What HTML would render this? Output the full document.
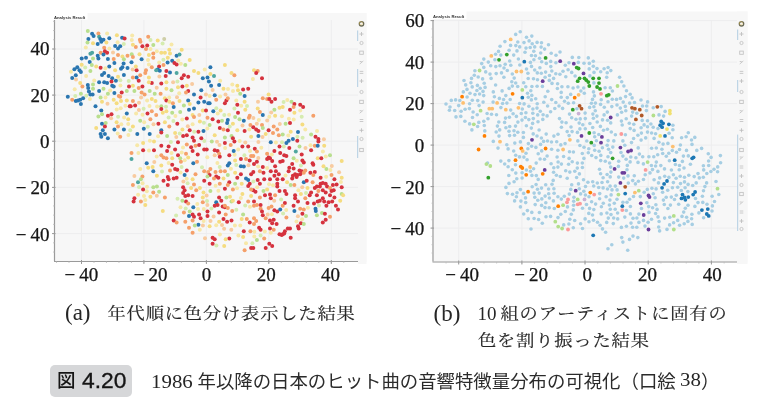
<!DOCTYPE html>
<html><head><meta charset="utf-8">
<style>
html,body{margin:0;padding:0;background:#fff;}
body{width:763px;height:412px;position:relative;overflow:hidden;}
svg{position:absolute;left:0;top:0;}
.yt,.xt{position:absolute;font-family:"Liberation Serif",serif;font-size:19px;line-height:21px;color:#151515;white-space:nowrap;-webkit-text-stroke:0.25px #151515;}
.xt{width:60px;text-align:center;}
.mn{margin-right:4px;}
.ttl{position:absolute;font-family:"Liberation Sans",sans-serif;font-size:4.2px;line-height:6px;color:#333;font-weight:bold;white-space:nowrap;}
.cap{position:absolute;font-family:"Noto Serif CJK JP","Noto Serif CJK SC",serif;font-size:18.2px;letter-spacing:0.9px;line-height:26px;color:#262626;white-space:nowrap;-webkit-text-stroke:0.2px #262626;transform:scaleY(0.9);transform-origin:0 13px;}
.lbl{position:absolute;font-family:"Liberation Serif",serif;font-size:23px;line-height:26px;color:#262626;white-space:nowrap;}
.num{position:absolute;font-family:"Liberation Serif",serif;font-size:19px;line-height:26px;color:#262626;white-space:nowrap;transform:scaleX(1.1);transform-origin:0 0;}
.fig{position:absolute;left:50px;top:365px;width:82px;height:31.5px;background:#d6d7d9;border-radius:5px;}
.figz{position:absolute;font-family:"Noto Sans CJK JP",sans-serif;font-size:18.5px;font-weight:500;line-height:26px;color:#151515;white-space:nowrap;}
.figt{position:absolute;font-family:"Liberation Sans",sans-serif;font-size:22.8px;line-height:26px;color:#151515;white-space:nowrap;-webkit-text-stroke:0.35px #151515;}
.jp{position:absolute;font-family:"Noto Sans CJK JP",sans-serif;font-size:18.4px;line-height:26px;color:#2b2b2b;white-space:nowrap;}
</style></head><body>
<svg width="763" height="412" viewBox="0 0 763 412">
<defs><filter id="bl" x="0" y="0" width="1" height="1"><feGaussianBlur stdDeviation="0.6"/></filter></defs>
<rect x="54" y="13" width="312.5" height="249" fill="#f7f7f7"/>
<rect x="358" y="13" width="8.5" height="251" fill="#f7f7f7"/>
<line x1="81.5" y1="20" x2="81.5" y2="261" stroke="#ededee" stroke-width="1"/>
<line x1="143.9" y1="20" x2="143.9" y2="261" stroke="#ededee" stroke-width="1"/>
<line x1="206.4" y1="20" x2="206.4" y2="261" stroke="#ededee" stroke-width="1"/>
<line x1="268.8" y1="20" x2="268.8" y2="261" stroke="#ededee" stroke-width="1"/>
<line x1="331.3" y1="20" x2="331.3" y2="261" stroke="#ededee" stroke-width="1"/>
<line x1="54" y1="49.0" x2="358" y2="49.0" stroke="#ededee" stroke-width="1"/>
<line x1="54" y1="95.1" x2="358" y2="95.1" stroke="#ededee" stroke-width="1"/>
<line x1="54" y1="141.2" x2="358" y2="141.2" stroke="#ededee" stroke-width="1"/>
<line x1="54" y1="187.4" x2="358" y2="187.4" stroke="#ededee" stroke-width="1"/>
<line x1="54" y1="233.6" x2="358" y2="233.6" stroke="#ededee" stroke-width="1"/>
<g filter="url(#bl)">
<circle cx="207.3" cy="157.2" r="2.0" fill="#f7e8a8"/>
<circle cx="216.2" cy="225.3" r="2.0" fill="#f7e8a8"/>
<circle cx="248.5" cy="165.2" r="2.0" fill="#f8cba0"/>
<circle cx="219.9" cy="234.6" r="2.0" fill="#f7e8a8"/>
<circle cx="176.1" cy="215.5" r="2.0" fill="#d5ecb0"/>
<circle cx="181.7" cy="152.4" r="2.0" fill="#f7e8a8"/>
<circle cx="94.2" cy="80.4" r="2.0" fill="#f7e8a8"/>
<circle cx="234.6" cy="154.8" r="2.0" fill="#f7e8a8"/>
<circle cx="234.4" cy="108.6" r="2.0" fill="#d5ecb0"/>
<circle cx="237.0" cy="188.2" r="2.0" fill="#f7e8a8"/>
<circle cx="233.0" cy="91.0" r="2.0" fill="#f7e8a8"/>
<circle cx="132.2" cy="35.5" r="2.0" fill="#f7e8a8"/>
<circle cx="218.4" cy="190.8" r="2.0" fill="#f7e8a8"/>
<circle cx="271.2" cy="112.4" r="2.0" fill="#f8cba0"/>
<circle cx="217.0" cy="141.7" r="2.0" fill="#f8cba0"/>
<circle cx="262.5" cy="136.9" r="2.0" fill="#f8cba0"/>
<circle cx="177.4" cy="81.4" r="2.0" fill="#d5ecb0"/>
<circle cx="170.9" cy="142.0" r="2.0" fill="#d5ecb0"/>
<circle cx="267.7" cy="214.4" r="2.0" fill="#f8cba0"/>
<circle cx="225.5" cy="94.5" r="2.0" fill="#f8cba0"/>
<circle cx="242.5" cy="125.5" r="2.0" fill="#f8cba0"/>
<circle cx="250.0" cy="206.7" r="2.0" fill="#f7e8a8"/>
<circle cx="139.0" cy="102.8" r="2.0" fill="#f8cba0"/>
<circle cx="279.8" cy="123.9" r="2.0" fill="#f8cba0"/>
<circle cx="245.3" cy="142.6" r="2.0" fill="#f8cba0"/>
<circle cx="134.4" cy="176.0" r="2.0" fill="#f8cba0"/>
<circle cx="132.7" cy="69.5" r="2.0" fill="#f8cba0"/>
<circle cx="310.5" cy="145.2" r="2.0" fill="#f7e8a8"/>
<circle cx="213.6" cy="216.5" r="2.0" fill="#f8cba0"/>
<circle cx="234.9" cy="225.4" r="2.0" fill="#f7e8a8"/>
<circle cx="206.6" cy="195.6" r="2.0" fill="#f8cba0"/>
<circle cx="173.4" cy="120.9" r="2.0" fill="#d5ecb0"/>
<circle cx="184.7" cy="160.2" r="2.0" fill="#f7e8a8"/>
<circle cx="118.1" cy="116.8" r="2.0" fill="#d5ecb0"/>
<circle cx="319.0" cy="205.4" r="2.0" fill="#d5ecb0"/>
<circle cx="216.3" cy="108.2" r="2.0" fill="#d5ecb0"/>
<circle cx="281.9" cy="116.3" r="2.0" fill="#f7e8a8"/>
<circle cx="116.7" cy="109.5" r="2.0" fill="#f7e8a8"/>
<circle cx="142.5" cy="114.7" r="2.0" fill="#f7e8a8"/>
<circle cx="250.0" cy="151.1" r="2.0" fill="#f7e8a8"/>
<circle cx="75.3" cy="95.9" r="2.0" fill="#d5ecb0"/>
<circle cx="296.8" cy="160.8" r="2.0" fill="#f7e8a8"/>
<circle cx="163.4" cy="59.8" r="2.0" fill="#d5ecb0"/>
<circle cx="192.1" cy="84.0" r="2.0" fill="#f8cba0"/>
<circle cx="205.9" cy="94.4" r="2.0" fill="#f8cba0"/>
<circle cx="241.2" cy="105.8" r="2.0" fill="#f7e8a8"/>
<circle cx="258.1" cy="166.4" r="2.0" fill="#f7e8a8"/>
<circle cx="219.7" cy="167.0" r="2.0" fill="#d5ecb0"/>
<circle cx="158.1" cy="136.2" r="2.0" fill="#f7e8a8"/>
<circle cx="240.9" cy="198.0" r="2.0" fill="#f7e8a8"/>
<circle cx="153.5" cy="124.2" r="2.0" fill="#f8cba0"/>
<circle cx="166.0" cy="106.7" r="2.0" fill="#d5ecb0"/>
<circle cx="307.9" cy="207.7" r="2.0" fill="#f7e8a8"/>
<circle cx="282.0" cy="142.3" r="2.0" fill="#d5ecb0"/>
<circle cx="269.1" cy="184.3" r="2.0" fill="#f7e8a8"/>
<circle cx="182.3" cy="119.6" r="2.0" fill="#f7e8a8"/>
<circle cx="317.0" cy="131.1" r="2.0" fill="#f7e8a8"/>
<circle cx="148.0" cy="60.0" r="2.0" fill="#f7e8a8"/>
<circle cx="331.8" cy="166.0" r="2.0" fill="#f8cba0"/>
<circle cx="105.5" cy="97.4" r="2.0" fill="#f7e8a8"/>
<circle cx="239.7" cy="141.1" r="2.0" fill="#f7e8a8"/>
<circle cx="288.9" cy="118.8" r="2.0" fill="#f7e8a8"/>
<circle cx="85.2" cy="67.4" r="2.0" fill="#d5ecb0"/>
<circle cx="86.1" cy="76.0" r="2.0" fill="#f7e8a8"/>
<circle cx="283.6" cy="101.9" r="2.0" fill="#d5ecb0"/>
<circle cx="225.1" cy="147.9" r="2.0" fill="#f7e8a8"/>
<circle cx="224.1" cy="228.7" r="2.0" fill="#f8cba0"/>
<circle cx="169.2" cy="97.4" r="2.0" fill="#f7e8a8"/>
<circle cx="187.8" cy="126.3" r="2.0" fill="#f8cba0"/>
<circle cx="140.3" cy="169.0" r="2.0" fill="#f7e8a8"/>
<circle cx="325.8" cy="156.6" r="2.0" fill="#f7e8a8"/>
<circle cx="247.0" cy="105.9" r="2.0" fill="#d5ecb0"/>
<circle cx="258.4" cy="142.1" r="2.0" fill="#f8cba0"/>
<circle cx="128.2" cy="124.1" r="2.0" fill="#f7e8a8"/>
<circle cx="128.4" cy="135.1" r="2.0" fill="#f7e8a8"/>
<circle cx="154.3" cy="161.9" r="2.0" fill="#f8cba0"/>
<circle cx="203.9" cy="122.8" r="2.0" fill="#d5ecb0"/>
<circle cx="183.4" cy="181.5" r="2.0" fill="#f8cba0"/>
<circle cx="274.2" cy="200.7" r="2.0" fill="#f8cba0"/>
<circle cx="275.9" cy="142.4" r="2.0" fill="#f7e8a8"/>
<circle cx="199.3" cy="115.0" r="2.0" fill="#f8cba0"/>
<circle cx="136.1" cy="113.4" r="2.0" fill="#f7e8a8"/>
<circle cx="183.0" cy="147.4" r="2.0" fill="#f7e8a8"/>
<circle cx="306.0" cy="193.1" r="2.0" fill="#d5ecb0"/>
<circle cx="254.4" cy="231.8" r="2.0" fill="#f7e8a8"/>
<circle cx="142.5" cy="183.3" r="2.0" fill="#f7e8a8"/>
<circle cx="252.9" cy="79.0" r="2.0" fill="#f7e8a8"/>
<circle cx="138.9" cy="109.9" r="2.0" fill="#f8cba0"/>
<circle cx="147.0" cy="186.8" r="2.0" fill="#f7e8a8"/>
<circle cx="217.4" cy="162.9" r="2.0" fill="#f7e8a8"/>
<circle cx="149.5" cy="106.1" r="2.0" fill="#f7e8a8"/>
<circle cx="217.7" cy="113.6" r="2.0" fill="#f7e8a8"/>
<circle cx="105.4" cy="68.2" r="2.0" fill="#f7e8a8"/>
<circle cx="128.7" cy="81.1" r="2.0" fill="#d5ecb0"/>
<circle cx="264.8" cy="231.4" r="2.0" fill="#f7e8a8"/>
<circle cx="179.7" cy="133.4" r="2.0" fill="#d5ecb0"/>
<circle cx="156.8" cy="195.8" r="2.0" fill="#f8cba0"/>
<circle cx="181.6" cy="167.1" r="2.0" fill="#d5ecb0"/>
<circle cx="269.3" cy="116.8" r="2.0" fill="#f7e8a8"/>
<circle cx="261.3" cy="147.8" r="2.0" fill="#f7e8a8"/>
<circle cx="138.4" cy="153.0" r="2.0" fill="#f7e8a8"/>
<circle cx="149.9" cy="140.7" r="2.0" fill="#f7e8a8"/>
<circle cx="150.5" cy="40.0" r="2.0" fill="#d5ecb0"/>
<circle cx="232.3" cy="84.5" r="2.0" fill="#f7e8a8"/>
<circle cx="177.0" cy="97.3" r="2.0" fill="#f8cba0"/>
<circle cx="267.2" cy="120.4" r="2.0" fill="#f8cba0"/>
<circle cx="302.6" cy="137.8" r="2.0" fill="#d5ecb0"/>
<circle cx="288.3" cy="135.4" r="2.0" fill="#f7e8a8"/>
<circle cx="168.6" cy="162.9" r="2.0" fill="#f7e8a8"/>
<circle cx="228.0" cy="89.1" r="2.0" fill="#f7e8a8"/>
<circle cx="156.7" cy="156.5" r="2.0" fill="#f7e8a8"/>
<circle cx="297.9" cy="216.3" r="2.0" fill="#f8cba0"/>
<circle cx="296.5" cy="221.5" r="2.0" fill="#f7e8a8"/>
<circle cx="120.7" cy="108.2" r="2.0" fill="#f7e8a8"/>
<circle cx="252.4" cy="243.2" r="2.0" fill="#d5ecb0"/>
<circle cx="145.3" cy="199.9" r="2.0" fill="#f7e8a8"/>
<circle cx="109.4" cy="48.5" r="2.0" fill="#f7e8a8"/>
<circle cx="273.0" cy="185.3" r="2.0" fill="#f7e8a8"/>
<circle cx="281.1" cy="199.5" r="2.0" fill="#d5ecb0"/>
<circle cx="146.8" cy="191.3" r="2.0" fill="#f7e8a8"/>
<circle cx="123.8" cy="44.0" r="2.0" fill="#d5ecb0"/>
<circle cx="156.8" cy="51.3" r="2.0" fill="#f7e8a8"/>
<circle cx="204.3" cy="141.1" r="2.0" fill="#d5ecb0"/>
<circle cx="107.5" cy="103.7" r="2.0" fill="#f8cba0"/>
<circle cx="202.0" cy="167.3" r="2.0" fill="#d5ecb0"/>
<circle cx="271.8" cy="154.4" r="2.0" fill="#f7e8a8"/>
<circle cx="230.9" cy="168.7" r="2.0" fill="#f7e8a8"/>
<circle cx="204.7" cy="69.4" r="2.0" fill="#f7e8a8"/>
<circle cx="147.1" cy="100.5" r="2.0" fill="#f7e8a8"/>
<circle cx="301.7" cy="116.7" r="2.0" fill="#d5ecb0"/>
<circle cx="162.0" cy="171.6" r="2.0" fill="#d5ecb0"/>
<circle cx="287.3" cy="99.9" r="2.0" fill="#f7e8a8"/>
<circle cx="322.9" cy="151.5" r="2.0" fill="#f7e8a8"/>
<circle cx="198.0" cy="209.1" r="2.0" fill="#f7e8a8"/>
<circle cx="270.8" cy="232.8" r="2.0" fill="#f7e8a8"/>
<circle cx="113.0" cy="52.6" r="2.0" fill="#f8cba0"/>
<circle cx="211.4" cy="208.6" r="2.0" fill="#d5ecb0"/>
<circle cx="305.3" cy="129.6" r="2.0" fill="#f7e8a8"/>
<circle cx="256.8" cy="123.8" r="2.0" fill="#f8cba0"/>
<circle cx="249.3" cy="129.6" r="2.0" fill="#f7e8a8"/>
<circle cx="159.2" cy="62.4" r="2.0" fill="#f7e8a8"/>
<circle cx="240.3" cy="225.5" r="2.0" fill="#f7e8a8"/>
<circle cx="176.3" cy="137.0" r="2.0" fill="#f8cba0"/>
<circle cx="246.0" cy="243.3" r="2.0" fill="#f7e8a8"/>
<circle cx="229.1" cy="114.7" r="2.0" fill="#f7e8a8"/>
<circle cx="330.4" cy="170.0" r="2.0" fill="#f7e8a8"/>
<circle cx="173.1" cy="82.2" r="2.0" fill="#f8cba0"/>
<circle cx="209.6" cy="96.1" r="2.0" fill="#f7e8a8"/>
<circle cx="89.9" cy="98.9" r="2.0" fill="#f7e8a8"/>
<circle cx="156.7" cy="87.8" r="2.0" fill="#f8cba0"/>
<circle cx="212.6" cy="89.9" r="2.0" fill="#f8cba0"/>
<circle cx="205.0" cy="238.2" r="2.0" fill="#f8cba0"/>
<circle cx="139.0" cy="186.9" r="2.0" fill="#d5ecb0"/>
<circle cx="120.3" cy="80.2" r="2.0" fill="#d5ecb0"/>
<circle cx="302.2" cy="187.2" r="2.0" fill="#f8cba0"/>
<circle cx="179.2" cy="93.3" r="2.0" fill="#f7e8a8"/>
<circle cx="216.4" cy="245.5" r="2.0" fill="#d5ecb0"/>
<circle cx="178.2" cy="60.4" r="2.0" fill="#f7e8a8"/>
<circle cx="293.7" cy="119.5" r="2.0" fill="#f7e8a8"/>
<circle cx="144.2" cy="122.3" r="2.0" fill="#f7e8a8"/>
<circle cx="300.2" cy="110.5" r="2.0" fill="#f7e8a8"/>
<circle cx="175.4" cy="116.0" r="2.0" fill="#f7e8a8"/>
<circle cx="238.2" cy="149.6" r="2.0" fill="#f7e8a8"/>
<circle cx="253.4" cy="181.5" r="2.0" fill="#d5ecb0"/>
<circle cx="180.8" cy="63.8" r="2.0" fill="#f7e8a8"/>
<circle cx="238.4" cy="235.4" r="2.0" fill="#f7e8a8"/>
<circle cx="180.5" cy="172.4" r="2.0" fill="#f7e8a8"/>
<circle cx="326.1" cy="176.8" r="2.0" fill="#f7e8a8"/>
<circle cx="260.6" cy="235.4" r="2.0" fill="#d5ecb0"/>
<circle cx="107.1" cy="33.4" r="2.0" fill="#f7e8a8"/>
<circle cx="258.3" cy="157.9" r="2.0" fill="#f8cba0"/>
<circle cx="141.1" cy="97.6" r="2.0" fill="#f8cba0"/>
<circle cx="194.2" cy="131.7" r="2.0" fill="#d5ecb0"/>
<circle cx="258.8" cy="119.9" r="2.0" fill="#f7e8a8"/>
<circle cx="121.3" cy="124.3" r="2.0" fill="#f7e8a8"/>
<circle cx="199.8" cy="229.7" r="2.0" fill="#f7e8a8"/>
<circle cx="220.1" cy="96.4" r="2.0" fill="#f7e8a8"/>
<circle cx="117.6" cy="42.3" r="2.0" fill="#f7e8a8"/>
<circle cx="168.6" cy="117.4" r="2.0" fill="#d5ecb0"/>
<circle cx="171.5" cy="153.0" r="2.0" fill="#f7e8a8"/>
<circle cx="245.2" cy="205.6" r="2.0" fill="#d5ecb0"/>
<circle cx="130.2" cy="130.2" r="2.0" fill="#d5ecb0"/>
<circle cx="285.5" cy="175.6" r="2.0" fill="#f7e8a8"/>
<circle cx="210.5" cy="221.0" r="2.0" fill="#f8cba0"/>
<circle cx="236.3" cy="209.8" r="2.0" fill="#d5ecb0"/>
<circle cx="253.4" cy="117.9" r="2.0" fill="#f8cba0"/>
<circle cx="187.6" cy="183.2" r="2.0" fill="#d5ecb0"/>
<circle cx="147.8" cy="126.7" r="2.0" fill="#d5ecb0"/>
<circle cx="85.8" cy="47.6" r="2.0" fill="#f7e8a8"/>
<circle cx="180.5" cy="207.2" r="2.0" fill="#f7e8a8"/>
<circle cx="74.7" cy="89.3" r="2.0" fill="#f7e8a8"/>
<circle cx="340.9" cy="181.9" r="2.0" fill="#f7e8a8"/>
<circle cx="214.7" cy="155.3" r="2.0" fill="#f8cba0"/>
<circle cx="222.0" cy="224.9" r="2.0" fill="#f8cba0"/>
<circle cx="271.9" cy="214.2" r="2.0" fill="#f7e8a8"/>
<circle cx="148.9" cy="64.4" r="2.0" fill="#f7e8a8"/>
<circle cx="300.9" cy="165.6" r="2.0" fill="#d5ecb0"/>
<circle cx="137.2" cy="145.3" r="2.0" fill="#f7e8a8"/>
<circle cx="298.4" cy="190.3" r="2.0" fill="#f7e8a8"/>
<circle cx="297.4" cy="136.7" r="2.0" fill="#d5ecb0"/>
<circle cx="111.1" cy="118.3" r="2.0" fill="#f8cba0"/>
<circle cx="302.1" cy="219.3" r="2.0" fill="#f7e8a8"/>
<circle cx="162.6" cy="43.5" r="2.0" fill="#d5ecb0"/>
<circle cx="125.4" cy="105.8" r="2.0" fill="#f7e8a8"/>
<circle cx="215.6" cy="185.8" r="2.0" fill="#f7e8a8"/>
<circle cx="117.7" cy="133.4" r="2.0" fill="#f7e8a8"/>
<circle cx="229.7" cy="126.6" r="2.0" fill="#d5ecb0"/>
<circle cx="192.6" cy="124.2" r="2.0" fill="#f7e8a8"/>
<circle cx="257.1" cy="187.2" r="2.0" fill="#f7e8a8"/>
<circle cx="144.0" cy="195.9" r="2.0" fill="#f7e8a8"/>
<circle cx="131.8" cy="40.0" r="2.0" fill="#f7e8a8"/>
<circle cx="305.5" cy="148.1" r="2.0" fill="#f8cba0"/>
<circle cx="150.5" cy="48.9" r="2.0" fill="#f7e8a8"/>
<circle cx="138.1" cy="194.7" r="2.0" fill="#f7e8a8"/>
<circle cx="143.6" cy="108.8" r="2.0" fill="#d5ecb0"/>
<circle cx="202.9" cy="225.6" r="2.0" fill="#f8cba0"/>
<circle cx="171.5" cy="44.6" r="2.0" fill="#f7e8a8"/>
<circle cx="258.0" cy="101.8" r="2.0" fill="#f8cba0"/>
<circle cx="197.3" cy="204.0" r="2.0" fill="#f7e8a8"/>
<circle cx="186.7" cy="178.8" r="2.0" fill="#f7e8a8"/>
<circle cx="236.2" cy="165.1" r="2.0" fill="#d5ecb0"/>
<circle cx="231.3" cy="229.8" r="2.0" fill="#f8cba0"/>
<circle cx="185.7" cy="208.5" r="2.0" fill="#d5ecb0"/>
<circle cx="177.5" cy="198.8" r="2.0" fill="#d5ecb0"/>
<circle cx="207.4" cy="205.1" r="2.0" fill="#f8cba0"/>
<circle cx="244.4" cy="155.2" r="2.0" fill="#d5ecb0"/>
<circle cx="220.2" cy="80.7" r="2.0" fill="#f7e8a8"/>
<circle cx="120.4" cy="85.4" r="2.0" fill="#f7e8a8"/>
<circle cx="203.8" cy="208.9" r="2.0" fill="#f7e8a8"/>
<circle cx="159.4" cy="76.6" r="2.0" fill="#f8cba0"/>
<circle cx="157.1" cy="106.4" r="2.0" fill="#f7e8a8"/>
<circle cx="224.3" cy="115.0" r="2.0" fill="#d5ecb0"/>
<circle cx="254.3" cy="236.6" r="2.0" fill="#f7e8a8"/>
<circle cx="286.2" cy="210.0" r="2.0" fill="#f7e8a8"/>
<circle cx="339.1" cy="172.3" r="2.0" fill="#f8cba0"/>
<circle cx="76.0" cy="79.5" r="2.0" fill="#f8cba0"/>
<circle cx="207.4" cy="128.5" r="2.0" fill="#f7e8a8"/>
<circle cx="203.6" cy="220.9" r="2.0" fill="#f7e8a8"/>
<circle cx="149.0" cy="150.6" r="2.0" fill="#f7e8a8"/>
<circle cx="207.0" cy="201.1" r="2.0" fill="#d5ecb0"/>
<circle cx="110.1" cy="90.5" r="2.0" fill="#f7e8a8"/>
<circle cx="124.1" cy="117.4" r="2.0" fill="#f7e8a8"/>
<circle cx="283.1" cy="213.4" r="2.0" fill="#d5ecb0"/>
<circle cx="219.5" cy="145.1" r="2.0" fill="#f8cba0"/>
<circle cx="267.1" cy="168.1" r="2.0" fill="#f7e8a8"/>
<circle cx="323.9" cy="139.2" r="2.0" fill="#f8cba0"/>
<circle cx="86.3" cy="95.7" r="2.0" fill="#d5ecb0"/>
<circle cx="236.3" cy="100.5" r="2.0" fill="#f7e8a8"/>
<circle cx="71.0" cy="71.8" r="2.0" fill="#f7e8a8"/>
<circle cx="283.8" cy="146.4" r="2.0" fill="#d5ecb0"/>
<circle cx="131.5" cy="153.1" r="2.0" fill="#f5a06a"/>
<circle cx="131.5" cy="158.9" r="2.0" fill="#4fa6a0"/>
<circle cx="143.1" cy="150.2" r="2.0" fill="#d5313e"/>
<circle cx="154.0" cy="150.2" r="2.0" fill="#d5313e"/>
<circle cx="161.3" cy="145.8" r="2.0" fill="#d5313e"/>
<circle cx="168.6" cy="146.6" r="2.0" fill="#d5313e"/>
<circle cx="167.1" cy="150.9" r="2.0" fill="#d5313e"/>
<circle cx="175.1" cy="149.5" r="2.0" fill="#d5313e"/>
<circle cx="178.0" cy="142.2" r="2.0" fill="#d5313e"/>
<circle cx="186.8" cy="144.4" r="2.0" fill="#f5a06a"/>
<circle cx="191.1" cy="147.3" r="2.0" fill="#d5313e"/>
<circle cx="192.6" cy="150.9" r="2.0" fill="#d5313e"/>
<circle cx="195.5" cy="145.8" r="2.0" fill="#f5a06a"/>
<circle cx="199.1" cy="145.1" r="2.0" fill="#d5313e"/>
<circle cx="197.7" cy="154.6" r="2.0" fill="#d5313e"/>
<circle cx="204.2" cy="149.5" r="2.0" fill="#d5313e"/>
<circle cx="194.0" cy="140.7" r="2.0" fill="#d5313e"/>
<circle cx="154.0" cy="141.5" r="2.0" fill="#f5dc80"/>
<circle cx="143.1" cy="142.9" r="2.0" fill="#f5dc80"/>
<circle cx="163.5" cy="157.5" r="2.0" fill="#f5a06a"/>
<circle cx="166.4" cy="158.2" r="2.0" fill="#f5a06a"/>
<circle cx="161.3" cy="155.3" r="2.0" fill="#f5a06a"/>
<circle cx="178.0" cy="155.3" r="2.0" fill="#d5313e"/>
<circle cx="180.2" cy="158.2" r="2.0" fill="#b9df8e"/>
<circle cx="172.2" cy="158.2" r="2.0" fill="#f5dc80"/>
<circle cx="180.9" cy="161.8" r="2.0" fill="#f5a06a"/>
<circle cx="186.0" cy="153.8" r="2.0" fill="#f5a06a"/>
<circle cx="188.2" cy="157.5" r="2.0" fill="#f5dc80"/>
<circle cx="193.3" cy="163.3" r="2.0" fill="#2a76b0"/>
<circle cx="197.0" cy="161.8" r="2.0" fill="#f5a06a"/>
<circle cx="146.7" cy="163.3" r="2.0" fill="#2a76b0"/>
<circle cx="153.3" cy="171.3" r="2.0" fill="#2a76b0"/>
<circle cx="148.2" cy="167.7" r="2.0" fill="#f5dc80"/>
<circle cx="152.6" cy="166.9" r="2.0" fill="#f5dc80"/>
<circle cx="161.3" cy="165.5" r="2.0" fill="#f5dc80"/>
<circle cx="172.2" cy="164.7" r="2.0" fill="#d5313e"/>
<circle cx="170.0" cy="170.6" r="2.0" fill="#f5a06a"/>
<circle cx="175.1" cy="169.1" r="2.0" fill="#d5313e"/>
<circle cx="177.3" cy="169.8" r="2.0" fill="#d5313e"/>
<circle cx="186.8" cy="170.6" r="2.0" fill="#d5313e"/>
<circle cx="184.6" cy="174.9" r="2.0" fill="#2a76b0"/>
<circle cx="195.5" cy="174.2" r="2.0" fill="#f5a06a"/>
<circle cx="204.2" cy="171.3" r="2.0" fill="#f5a06a"/>
<circle cx="142.4" cy="176.4" r="2.0" fill="#f5a06a"/>
<circle cx="140.9" cy="179.3" r="2.0" fill="#b9df8e"/>
<circle cx="138.0" cy="182.2" r="2.0" fill="#4fa6a0"/>
<circle cx="132.9" cy="185.1" r="2.0" fill="#f5a06a"/>
<circle cx="167.8" cy="177.1" r="2.0" fill="#d5313e"/>
<circle cx="168.6" cy="179.3" r="2.0" fill="#d5313e"/>
<circle cx="163.5" cy="180.8" r="2.0" fill="#d5313e"/>
<circle cx="173.7" cy="178.6" r="2.0" fill="#d5313e"/>
<circle cx="176.6" cy="177.8" r="2.0" fill="#d5313e"/>
<circle cx="156.9" cy="175.7" r="2.0" fill="#f5dc80"/>
<circle cx="192.6" cy="179.3" r="2.0" fill="#f5dc80"/>
<circle cx="204.2" cy="180.8" r="2.0" fill="#d5313e"/>
<circle cx="194.0" cy="184.4" r="2.0" fill="#f5a06a"/>
<circle cx="191.1" cy="188.0" r="2.0" fill="#f5dc80"/>
<circle cx="167.8" cy="185.1" r="2.0" fill="#d5313e"/>
<circle cx="156.9" cy="186.6" r="2.0" fill="#b9df8e"/>
<circle cx="153.3" cy="187.3" r="2.0" fill="#b9df8e"/>
<circle cx="143.1" cy="189.5" r="2.0" fill="#d5313e"/>
<circle cx="153.3" cy="192.4" r="2.0" fill="#f5a06a"/>
<circle cx="159.1" cy="191.7" r="2.0" fill="#b9df8e"/>
<circle cx="183.1" cy="187.3" r="2.0" fill="#d5313e"/>
<circle cx="184.6" cy="190.2" r="2.0" fill="#d5313e"/>
<circle cx="183.1" cy="193.1" r="2.0" fill="#d5313e"/>
<circle cx="185.3" cy="196.0" r="2.0" fill="#d5313e"/>
<circle cx="188.2" cy="195.3" r="2.0" fill="#d5313e"/>
<circle cx="192.6" cy="196.0" r="2.0" fill="#d5313e"/>
<circle cx="196.2" cy="190.2" r="2.0" fill="#f5a06a"/>
<circle cx="199.9" cy="188.0" r="2.0" fill="#f5dc80"/>
<circle cx="203.5" cy="192.4" r="2.0" fill="#f5dc80"/>
<circle cx="202.8" cy="197.5" r="2.0" fill="#f5dc80"/>
<circle cx="164.9" cy="197.5" r="2.0" fill="#f5a06a"/>
<circle cx="134.4" cy="198.2" r="2.0" fill="#d5313e"/>
<circle cx="150.4" cy="196.8" r="2.0" fill="#f5dc80"/>
<circle cx="148.2" cy="36.7" r="2.0" fill="#f5a06a"/>
<circle cx="139.9" cy="39.7" r="2.0" fill="#f5a06a"/>
<circle cx="140.5" cy="41.8" r="2.0" fill="#f5a06a"/>
<circle cx="157.7" cy="40.4" r="2.0" fill="#f5dc80"/>
<circle cx="164.2" cy="38.9" r="2.0" fill="#cfcfa8"/>
<circle cx="135.8" cy="46.9" r="2.0" fill="#f5a06a"/>
<circle cx="142.4" cy="46.2" r="2.0" fill="#d5313e"/>
<circle cx="147.2" cy="45.5" r="2.0" fill="#d5313e"/>
<circle cx="153.3" cy="45.0" r="2.0" fill="#b9df8e"/>
<circle cx="146.0" cy="49.1" r="2.0" fill="#f5a06a"/>
<circle cx="132.9" cy="44.7" r="2.0" fill="#f5dc80"/>
<circle cx="131.7" cy="54.2" r="2.0" fill="#b9df8e"/>
<circle cx="139.5" cy="54.2" r="2.0" fill="#f5dc80"/>
<circle cx="132.9" cy="57.1" r="2.0" fill="#f5a06a"/>
<circle cx="141.6" cy="59.3" r="2.0" fill="#2a76b0"/>
<circle cx="148.9" cy="54.9" r="2.0" fill="#f5dc80"/>
<circle cx="153.3" cy="53.5" r="2.0" fill="#f5a06a"/>
<circle cx="153.3" cy="57.8" r="2.0" fill="#f5a06a"/>
<circle cx="161.3" cy="52.8" r="2.0" fill="#f5dc80"/>
<circle cx="164.9" cy="52.8" r="2.0" fill="#f5dc80"/>
<circle cx="169.3" cy="49.8" r="2.0" fill="#f5dc80"/>
<circle cx="170.0" cy="53.5" r="2.0" fill="#f5dc80"/>
<circle cx="176.6" cy="55.7" r="2.0" fill="#2a76b0"/>
<circle cx="179.5" cy="54.6" r="2.0" fill="#4fa6a0"/>
<circle cx="181.7" cy="49.8" r="2.0" fill="#f5dc80"/>
<circle cx="167.8" cy="57.8" r="2.0" fill="#f5dc80"/>
<circle cx="172.2" cy="60.8" r="2.0" fill="#2a76b0"/>
<circle cx="167.6" cy="62.5" r="2.0" fill="#2a76b0"/>
<circle cx="174.4" cy="62.9" r="2.0" fill="#d5313e"/>
<circle cx="176.6" cy="64.4" r="2.0" fill="#d5313e"/>
<circle cx="163.5" cy="65.1" r="2.0" fill="#f5a06a"/>
<circle cx="159.1" cy="66.6" r="2.0" fill="#d5313e"/>
<circle cx="151.8" cy="67.3" r="2.0" fill="#f5a06a"/>
<circle cx="146.0" cy="70.2" r="2.0" fill="#f5a06a"/>
<circle cx="145.3" cy="73.1" r="2.0" fill="#f5a06a"/>
<circle cx="136.6" cy="70.2" r="2.0" fill="#d5313e"/>
<circle cx="131.5" cy="62.2" r="2.0" fill="#2a76b0"/>
<circle cx="135.8" cy="66.6" r="2.0" fill="#f5dc80"/>
<circle cx="157.7" cy="69.5" r="2.0" fill="#2a76b0"/>
<circle cx="159.8" cy="70.7" r="2.0" fill="#2a76b0"/>
<circle cx="156.2" cy="70.2" r="2.0" fill="#4fa6a0"/>
<circle cx="166.4" cy="70.9" r="2.0" fill="#d5313e"/>
<circle cx="170.0" cy="72.4" r="2.0" fill="#2a76b0"/>
<circle cx="165.7" cy="76.0" r="2.0" fill="#d5313e"/>
<circle cx="176.6" cy="73.1" r="2.0" fill="#4fa6a0"/>
<circle cx="185.3" cy="65.1" r="2.0" fill="#b9df8e"/>
<circle cx="189.7" cy="60.0" r="2.0" fill="#f5dc80"/>
<circle cx="194.0" cy="70.9" r="2.0" fill="#f5dc80"/>
<circle cx="198.4" cy="73.1" r="2.0" fill="#f5dc80"/>
<circle cx="183.9" cy="75.3" r="2.0" fill="#d5313e"/>
<circle cx="188.2" cy="76.8" r="2.0" fill="#d5313e"/>
<circle cx="181.7" cy="78.2" r="2.0" fill="#d5313e"/>
<circle cx="202.8" cy="78.2" r="2.0" fill="#2a76b0"/>
<circle cx="136.6" cy="77.5" r="2.0" fill="#2a76b0"/>
<circle cx="148.9" cy="77.5" r="2.0" fill="#f5dc80"/>
<circle cx="140.2" cy="75.3" r="2.0" fill="#f5a06a"/>
<circle cx="132.9" cy="77.5" r="2.0" fill="#f5a06a"/>
<circle cx="133.6" cy="201.5" r="2.0" fill="#d5313e"/>
<circle cx="140.9" cy="201.5" r="2.0" fill="#f5a06a"/>
<circle cx="145.3" cy="205.1" r="2.0" fill="#f5dc80"/>
<circle cx="162.8" cy="210.9" r="2.0" fill="#f5dc80"/>
<circle cx="186.0" cy="201.5" r="2.0" fill="#d5313e"/>
<circle cx="188.2" cy="203.6" r="2.0" fill="#f5a06a"/>
<circle cx="182.4" cy="200.7" r="2.0" fill="#b9df8e"/>
<circle cx="193.3" cy="207.3" r="2.0" fill="#2a76b0"/>
<circle cx="202.8" cy="202.2" r="2.0" fill="#f5a06a"/>
<circle cx="183.9" cy="212.4" r="2.0" fill="#f5a06a"/>
<circle cx="189.0" cy="216.0" r="2.0" fill="#2a76b0"/>
<circle cx="192.6" cy="214.6" r="2.0" fill="#d5313e"/>
<circle cx="194.0" cy="216.7" r="2.0" fill="#d5313e"/>
<circle cx="199.1" cy="214.6" r="2.0" fill="#d5313e"/>
<circle cx="200.6" cy="218.2" r="2.0" fill="#d5313e"/>
<circle cx="189.7" cy="211.6" r="2.0" fill="#b9df8e"/>
<circle cx="173.7" cy="220.4" r="2.0" fill="#d5313e"/>
<circle cx="176.6" cy="222.6" r="2.0" fill="#f5a06a"/>
<circle cx="185.3" cy="221.8" r="2.0" fill="#f5a06a"/>
<circle cx="192.6" cy="220.4" r="2.0" fill="#f5a06a"/>
<circle cx="198.4" cy="224.7" r="2.0" fill="#2a76b0"/>
<circle cx="194.8" cy="225.5" r="2.0" fill="#b9df8e"/>
<circle cx="189.0" cy="227.7" r="2.0" fill="#f5a06a"/>
<circle cx="192.6" cy="232.8" r="2.0" fill="#f5a06a"/>
<circle cx="138.7" cy="80.7" r="2.0" fill="#d5313e"/>
<circle cx="142.4" cy="86.6" r="2.0" fill="#d5313e"/>
<circle cx="151.8" cy="82.9" r="2.0" fill="#d5313e"/>
<circle cx="161.3" cy="83.6" r="2.0" fill="#d5313e"/>
<circle cx="166.4" cy="82.2" r="2.0" fill="#f5dc80"/>
<circle cx="148.9" cy="82.2" r="2.0" fill="#f5dc80"/>
<circle cx="134.4" cy="90.9" r="2.0" fill="#b9df8e"/>
<circle cx="138.7" cy="88.0" r="2.0" fill="#f5a06a"/>
<circle cx="141.6" cy="92.4" r="2.0" fill="#f5a06a"/>
<circle cx="144.6" cy="94.6" r="2.0" fill="#f5a06a"/>
<circle cx="132.9" cy="85.8" r="2.0" fill="#f5dc80"/>
<circle cx="149.7" cy="90.9" r="2.0" fill="#b9df8e"/>
<circle cx="154.7" cy="93.8" r="2.0" fill="#b9df8e"/>
<circle cx="160.6" cy="93.8" r="2.0" fill="#f5a06a"/>
<circle cx="166.4" cy="88.7" r="2.0" fill="#f5dc80"/>
<circle cx="171.5" cy="90.2" r="2.0" fill="#b9df8e"/>
<circle cx="178.0" cy="87.3" r="2.0" fill="#f5dc80"/>
<circle cx="182.4" cy="86.6" r="2.0" fill="#d5313e"/>
<circle cx="186.8" cy="85.8" r="2.0" fill="#f5dc80"/>
<circle cx="188.2" cy="90.9" r="2.0" fill="#d5313e"/>
<circle cx="186.0" cy="92.4" r="2.0" fill="#f5a06a"/>
<circle cx="194.0" cy="94.6" r="2.0" fill="#2a76b0"/>
<circle cx="201.3" cy="90.2" r="2.0" fill="#2a76b0"/>
<circle cx="200.6" cy="97.5" r="2.0" fill="#d5313e"/>
<circle cx="198.4" cy="102.6" r="2.0" fill="#2a76b0"/>
<circle cx="204.2" cy="101.8" r="2.0" fill="#2a76b0"/>
<circle cx="188.2" cy="100.4" r="2.0" fill="#2a76b0"/>
<circle cx="189.0" cy="109.8" r="2.0" fill="#2a76b0"/>
<circle cx="194.0" cy="108.4" r="2.0" fill="#2a76b0"/>
<circle cx="202.8" cy="110.6" r="2.0" fill="#f5dc80"/>
<circle cx="132.9" cy="101.1" r="2.0" fill="#f5a06a"/>
<circle cx="130.7" cy="106.2" r="2.0" fill="#d5313e"/>
<circle cx="135.1" cy="105.5" r="2.0" fill="#d5313e"/>
<circle cx="151.8" cy="98.9" r="2.0" fill="#f5dc80"/>
<circle cx="155.5" cy="101.1" r="2.0" fill="#f5dc80"/>
<circle cx="164.9" cy="98.2" r="2.0" fill="#f5dc80"/>
<circle cx="166.4" cy="100.4" r="2.0" fill="#d5313e"/>
<circle cx="169.3" cy="101.8" r="2.0" fill="#f5dc80"/>
<circle cx="161.3" cy="106.2" r="2.0" fill="#b9df8e"/>
<circle cx="161.3" cy="109.1" r="2.0" fill="#d5313e"/>
<circle cx="173.7" cy="106.9" r="2.0" fill="#2a76b0"/>
<circle cx="172.9" cy="103.3" r="2.0" fill="#f5a06a"/>
<circle cx="179.5" cy="101.1" r="2.0" fill="#f5dc80"/>
<circle cx="183.9" cy="105.5" r="2.0" fill="#b9df8e"/>
<circle cx="189.7" cy="104.0" r="2.0" fill="#f5dc80"/>
<circle cx="147.5" cy="113.5" r="2.0" fill="#d5313e"/>
<circle cx="151.8" cy="111.3" r="2.0" fill="#f5a06a"/>
<circle cx="156.2" cy="114.9" r="2.0" fill="#f5a06a"/>
<circle cx="162.8" cy="112.8" r="2.0" fill="#f5dc80"/>
<circle cx="166.4" cy="111.3" r="2.0" fill="#f5dc80"/>
<circle cx="172.2" cy="112.8" r="2.0" fill="#b9df8e"/>
<circle cx="180.2" cy="112.0" r="2.0" fill="#b9df8e"/>
<circle cx="186.8" cy="118.6" r="2.0" fill="#d5313e"/>
<circle cx="192.6" cy="114.9" r="2.0" fill="#f5dc80"/>
<circle cx="194.0" cy="117.1" r="2.0" fill="#f5a06a"/>
<circle cx="199.9" cy="121.5" r="2.0" fill="#f5dc80"/>
<circle cx="150.4" cy="119.3" r="2.0" fill="#f5a06a"/>
<circle cx="140.2" cy="120.8" r="2.0" fill="#b9df8e"/>
<circle cx="158.4" cy="123.7" r="2.0" fill="#d5313e"/>
<circle cx="164.9" cy="122.2" r="2.0" fill="#f5dc80"/>
<circle cx="177.3" cy="123.7" r="2.0" fill="#d5313e"/>
<circle cx="169.3" cy="126.6" r="2.0" fill="#f5a06a"/>
<circle cx="182.4" cy="129.5" r="2.0" fill="#f5dc80"/>
<circle cx="189.7" cy="130.2" r="2.0" fill="#d5313e"/>
<circle cx="198.4" cy="131.7" r="2.0" fill="#d5313e"/>
<circle cx="203.5" cy="130.9" r="2.0" fill="#2a76b0"/>
<circle cx="143.8" cy="128.8" r="2.0" fill="#2a76b0"/>
<circle cx="137.3" cy="133.9" r="2.0" fill="#2a76b0"/>
<circle cx="149.7" cy="133.9" r="2.0" fill="#2a76b0"/>
<circle cx="161.3" cy="130.2" r="2.0" fill="#2a76b0"/>
<circle cx="161.3" cy="132.4" r="2.0" fill="#d5313e"/>
<circle cx="167.1" cy="136.0" r="2.0" fill="#b9df8e"/>
<circle cx="175.1" cy="133.1" r="2.0" fill="#f5dc80"/>
<circle cx="183.1" cy="136.0" r="2.0" fill="#d5313e"/>
<circle cx="186.8" cy="135.3" r="2.0" fill="#d5313e"/>
<circle cx="192.6" cy="137.5" r="2.0" fill="#d5313e"/>
<circle cx="201.3" cy="138.2" r="2.0" fill="#d5313e"/>
<circle cx="132.9" cy="126.6" r="2.0" fill="#f5dc80"/>
<circle cx="224.9" cy="142.9" r="2.0" fill="#d5313e"/>
<circle cx="234.4" cy="141.5" r="2.0" fill="#d5313e"/>
<circle cx="230.7" cy="145.1" r="2.0" fill="#f5a06a"/>
<circle cx="211.8" cy="141.5" r="2.0" fill="#b9df8e"/>
<circle cx="206.7" cy="149.5" r="2.0" fill="#d5313e"/>
<circle cx="214.7" cy="150.2" r="2.0" fill="#d5313e"/>
<circle cx="217.6" cy="150.9" r="2.0" fill="#d5313e"/>
<circle cx="219.1" cy="153.8" r="2.0" fill="#f5a06a"/>
<circle cx="219.8" cy="156.7" r="2.0" fill="#d5313e"/>
<circle cx="233.7" cy="150.9" r="2.0" fill="#2a76b0"/>
<circle cx="229.3" cy="155.3" r="2.0" fill="#d5313e"/>
<circle cx="242.4" cy="146.6" r="2.0" fill="#d5313e"/>
<circle cx="248.2" cy="146.6" r="2.0" fill="#d5313e"/>
<circle cx="254.8" cy="148.7" r="2.0" fill="#d5313e"/>
<circle cx="256.9" cy="151.6" r="2.0" fill="#f5a06a"/>
<circle cx="270.8" cy="142.2" r="2.0" fill="#2a76b0"/>
<circle cx="274.4" cy="150.9" r="2.0" fill="#d5313e"/>
<circle cx="279.5" cy="146.6" r="2.0" fill="#d5313e"/>
<circle cx="280.2" cy="153.1" r="2.0" fill="#d5313e"/>
<circle cx="267.1" cy="153.8" r="2.0" fill="#f5a06a"/>
<circle cx="268.6" cy="157.5" r="2.0" fill="#d5313e"/>
<circle cx="267.1" cy="158.9" r="2.0" fill="#d5313e"/>
<circle cx="270.0" cy="158.2" r="2.0" fill="#d5313e"/>
<circle cx="272.2" cy="161.1" r="2.0" fill="#d5313e"/>
<circle cx="280.2" cy="161.8" r="2.0" fill="#d5313e"/>
<circle cx="275.1" cy="166.2" r="2.0" fill="#d5313e"/>
<circle cx="240.9" cy="158.9" r="2.0" fill="#d5313e"/>
<circle cx="246.0" cy="158.9" r="2.0" fill="#f5a06a"/>
<circle cx="249.7" cy="160.4" r="2.0" fill="#d5313e"/>
<circle cx="251.1" cy="156.0" r="2.0" fill="#f5a06a"/>
<circle cx="253.3" cy="156.0" r="2.0" fill="#f5a06a"/>
<circle cx="254.0" cy="164.0" r="2.0" fill="#d5313e"/>
<circle cx="256.9" cy="161.8" r="2.0" fill="#d5313e"/>
<circle cx="262.8" cy="166.9" r="2.0" fill="#d5313e"/>
<circle cx="227.8" cy="165.5" r="2.0" fill="#2a76b0"/>
<circle cx="229.3" cy="163.3" r="2.0" fill="#2a76b0"/>
<circle cx="240.9" cy="166.2" r="2.0" fill="#2a76b0"/>
<circle cx="243.8" cy="166.6" r="2.0" fill="#2a76b0"/>
<circle cx="235.1" cy="160.4" r="2.0" fill="#f5dc80"/>
<circle cx="210.4" cy="169.1" r="2.0" fill="#f5a06a"/>
<circle cx="208.2" cy="172.0" r="2.0" fill="#f5a06a"/>
<circle cx="215.5" cy="172.0" r="2.0" fill="#f5a06a"/>
<circle cx="220.6" cy="171.3" r="2.0" fill="#f5a06a"/>
<circle cx="224.9" cy="171.3" r="2.0" fill="#f5a06a"/>
<circle cx="209.6" cy="174.9" r="2.0" fill="#d5313e"/>
<circle cx="216.2" cy="176.4" r="2.0" fill="#d5313e"/>
<circle cx="218.4" cy="177.8" r="2.0" fill="#d5313e"/>
<circle cx="214.0" cy="178.6" r="2.0" fill="#f5a06a"/>
<circle cx="227.8" cy="174.9" r="2.0" fill="#b9df8e"/>
<circle cx="235.1" cy="172.8" r="2.0" fill="#f5dc80"/>
<circle cx="237.3" cy="177.8" r="2.0" fill="#d5313e"/>
<circle cx="240.9" cy="174.2" r="2.0" fill="#d5313e"/>
<circle cx="246.0" cy="178.6" r="2.0" fill="#2a76b0"/>
<circle cx="248.2" cy="180.0" r="2.0" fill="#2a76b0"/>
<circle cx="251.1" cy="174.2" r="2.0" fill="#d5313e"/>
<circle cx="253.3" cy="172.0" r="2.0" fill="#d5313e"/>
<circle cx="259.9" cy="171.3" r="2.0" fill="#f5a06a"/>
<circle cx="263.5" cy="172.8" r="2.0" fill="#d5313e"/>
<circle cx="270.8" cy="171.3" r="2.0" fill="#d5313e"/>
<circle cx="275.9" cy="171.3" r="2.0" fill="#d5313e"/>
<circle cx="278.8" cy="174.2" r="2.0" fill="#d5313e"/>
<circle cx="274.4" cy="175.7" r="2.0" fill="#d5313e"/>
<circle cx="264.2" cy="179.3" r="2.0" fill="#d5313e"/>
<circle cx="270.0" cy="179.3" r="2.0" fill="#d5313e"/>
<circle cx="277.3" cy="179.3" r="2.0" fill="#d5313e"/>
<circle cx="277.3" cy="183.7" r="2.0" fill="#d5313e"/>
<circle cx="277.3" cy="186.6" r="2.0" fill="#d5313e"/>
<circle cx="257.7" cy="180.0" r="2.0" fill="#d5313e"/>
<circle cx="259.9" cy="183.7" r="2.0" fill="#d5313e"/>
<circle cx="248.2" cy="185.9" r="2.0" fill="#d5313e"/>
<circle cx="249.7" cy="183.7" r="2.0" fill="#d5313e"/>
<circle cx="241.7" cy="183.7" r="2.0" fill="#f5dc80"/>
<circle cx="235.1" cy="183.7" r="2.0" fill="#b9df8e"/>
<circle cx="229.3" cy="182.2" r="2.0" fill="#d5313e"/>
<circle cx="227.8" cy="185.1" r="2.0" fill="#f5a06a"/>
<circle cx="224.9" cy="188.8" r="2.0" fill="#d5313e"/>
<circle cx="219.8" cy="183.7" r="2.0" fill="#f5a06a"/>
<circle cx="209.6" cy="183.7" r="2.0" fill="#d5313e"/>
<circle cx="207.5" cy="176.4" r="2.0" fill="#b9df8e"/>
<circle cx="223.5" cy="178.6" r="2.0" fill="#f5dc80"/>
<circle cx="232.9" cy="189.5" r="2.0" fill="#f5a06a"/>
<circle cx="253.3" cy="190.2" r="2.0" fill="#d5313e"/>
<circle cx="255.5" cy="191.7" r="2.0" fill="#d5313e"/>
<circle cx="251.1" cy="189.5" r="2.0" fill="#f5a06a"/>
<circle cx="263.5" cy="190.9" r="2.0" fill="#b9df8e"/>
<circle cx="267.1" cy="189.5" r="2.0" fill="#f5dc80"/>
<circle cx="265.0" cy="195.3" r="2.0" fill="#d5313e"/>
<circle cx="270.0" cy="194.6" r="2.0" fill="#d5313e"/>
<circle cx="275.1" cy="195.3" r="2.0" fill="#f5a06a"/>
<circle cx="279.5" cy="190.9" r="2.0" fill="#d5313e"/>
<circle cx="210.4" cy="190.9" r="2.0" fill="#b9df8e"/>
<circle cx="219.1" cy="197.5" r="2.0" fill="#d5313e"/>
<circle cx="226.4" cy="197.5" r="2.0" fill="#b9df8e"/>
<circle cx="230.0" cy="196.8" r="2.0" fill="#f5dc80"/>
<circle cx="242.4" cy="193.9" r="2.0" fill="#f5dc80"/>
<circle cx="251.1" cy="196.0" r="2.0" fill="#f5dc80"/>
<circle cx="259.9" cy="197.5" r="2.0" fill="#f5a06a"/>
<circle cx="270.8" cy="198.2" r="2.0" fill="#d5313e"/>
<circle cx="210.4" cy="67.3" r="2.0" fill="#2a76b0"/>
<circle cx="207.5" cy="77.5" r="2.0" fill="#2a76b0"/>
<circle cx="214.0" cy="76.0" r="2.0" fill="#4fa6a0"/>
<circle cx="210.4" cy="73.9" r="2.0" fill="#f5dc80"/>
<circle cx="231.5" cy="73.1" r="2.0" fill="#f5dc80"/>
<circle cx="234.4" cy="75.3" r="2.0" fill="#f5a06a"/>
<circle cx="254.0" cy="70.2" r="2.0" fill="#f5dc80"/>
<circle cx="257.7" cy="70.9" r="2.0" fill="#f5a06a"/>
<circle cx="256.2" cy="73.1" r="2.0" fill="#d5313e"/>
<circle cx="262.0" cy="78.2" r="2.0" fill="#d5313e"/>
<circle cx="224.9" cy="65.1" r="2.0" fill="#f5dc80"/>
<circle cx="216.2" cy="202.2" r="2.0" fill="#2a76b0"/>
<circle cx="214.7" cy="205.8" r="2.0" fill="#d5313e"/>
<circle cx="217.6" cy="205.1" r="2.0" fill="#d5313e"/>
<circle cx="221.3" cy="200.7" r="2.0" fill="#d5313e"/>
<circle cx="222.7" cy="206.6" r="2.0" fill="#d5313e"/>
<circle cx="224.9" cy="207.3" r="2.0" fill="#d5313e"/>
<circle cx="227.8" cy="208.0" r="2.0" fill="#f5a06a"/>
<circle cx="231.5" cy="201.5" r="2.0" fill="#b9df8e"/>
<circle cx="232.9" cy="200.7" r="2.0" fill="#f5dc80"/>
<circle cx="238.8" cy="202.2" r="2.0" fill="#d5313e"/>
<circle cx="207.5" cy="211.6" r="2.0" fill="#d5313e"/>
<circle cx="207.5" cy="216.0" r="2.0" fill="#d5313e"/>
<circle cx="219.1" cy="212.4" r="2.0" fill="#d5313e"/>
<circle cx="225.7" cy="214.6" r="2.0" fill="#f5a06a"/>
<circle cx="232.2" cy="210.9" r="2.0" fill="#f5a06a"/>
<circle cx="224.9" cy="205.8" r="2.0" fill="#f5a06a"/>
<circle cx="248.2" cy="201.5" r="2.0" fill="#f5a06a"/>
<circle cx="254.0" cy="201.5" r="2.0" fill="#d5313e"/>
<circle cx="254.0" cy="205.8" r="2.0" fill="#f5a06a"/>
<circle cx="256.9" cy="205.1" r="2.0" fill="#f5a06a"/>
<circle cx="260.6" cy="205.1" r="2.0" fill="#d5313e"/>
<circle cx="260.6" cy="208.7" r="2.0" fill="#f5a06a"/>
<circle cx="268.6" cy="208.0" r="2.0" fill="#f5a06a"/>
<circle cx="271.5" cy="206.6" r="2.0" fill="#f5a06a"/>
<circle cx="274.4" cy="210.2" r="2.0" fill="#d5313e"/>
<circle cx="277.3" cy="211.6" r="2.0" fill="#d5313e"/>
<circle cx="280.2" cy="209.5" r="2.0" fill="#2a76b0"/>
<circle cx="262.0" cy="211.6" r="2.0" fill="#d5313e"/>
<circle cx="262.8" cy="215.3" r="2.0" fill="#d5313e"/>
<circle cx="265.7" cy="218.2" r="2.0" fill="#f5a06a"/>
<circle cx="243.1" cy="214.6" r="2.0" fill="#b9df8e"/>
<circle cx="241.7" cy="218.9" r="2.0" fill="#f5dc80"/>
<circle cx="246.8" cy="218.9" r="2.0" fill="#f5a06a"/>
<circle cx="249.7" cy="222.6" r="2.0" fill="#d5313e"/>
<circle cx="254.0" cy="218.2" r="2.0" fill="#f5a06a"/>
<circle cx="256.2" cy="221.1" r="2.0" fill="#f5a06a"/>
<circle cx="254.0" cy="224.0" r="2.0" fill="#f5a06a"/>
<circle cx="223.5" cy="218.9" r="2.0" fill="#d5313e"/>
<circle cx="227.1" cy="221.8" r="2.0" fill="#d5313e"/>
<circle cx="231.5" cy="220.4" r="2.0" fill="#d5313e"/>
<circle cx="219.1" cy="221.8" r="2.0" fill="#f5dc80"/>
<circle cx="209.6" cy="226.2" r="2.0" fill="#f5dc80"/>
<circle cx="259.1" cy="227.7" r="2.0" fill="#d5313e"/>
<circle cx="260.6" cy="229.8" r="2.0" fill="#d5313e"/>
<circle cx="270.0" cy="220.4" r="2.0" fill="#d5313e"/>
<circle cx="273.7" cy="219.7" r="2.0" fill="#d5313e"/>
<circle cx="272.2" cy="223.3" r="2.0" fill="#d5313e"/>
<circle cx="276.6" cy="224.0" r="2.0" fill="#d5313e"/>
<circle cx="270.0" cy="228.4" r="2.0" fill="#d5313e"/>
<circle cx="273.7" cy="229.8" r="2.0" fill="#f5a06a"/>
<circle cx="279.5" cy="234.2" r="2.0" fill="#d5313e"/>
<circle cx="281.7" cy="234.9" r="2.0" fill="#d5313e"/>
<circle cx="243.8" cy="231.3" r="2.0" fill="#d5313e"/>
<circle cx="250.4" cy="231.3" r="2.0" fill="#f5a06a"/>
<circle cx="264.2" cy="238.6" r="2.0" fill="#f5a06a"/>
<circle cx="256.9" cy="240.0" r="2.0" fill="#b9df8e"/>
<circle cx="243.1" cy="237.1" r="2.0" fill="#f5dc80"/>
<circle cx="212.6" cy="237.8" r="2.0" fill="#d5313e"/>
<circle cx="214.7" cy="239.3" r="2.0" fill="#d5313e"/>
<circle cx="212.6" cy="243.7" r="2.0" fill="#d5313e"/>
<circle cx="229.3" cy="238.6" r="2.0" fill="#d5313e"/>
<circle cx="225.7" cy="239.3" r="2.0" fill="#f5dc80"/>
<circle cx="224.2" cy="245.9" r="2.0" fill="#f5dc80"/>
<circle cx="269.3" cy="243.7" r="2.0" fill="#d5313e"/>
<circle cx="272.2" cy="245.9" r="2.0" fill="#d5313e"/>
<circle cx="265.7" cy="248.0" r="2.0" fill="#d5313e"/>
<circle cx="251.1" cy="248.0" r="2.0" fill="#d5313e"/>
<circle cx="253.3" cy="248.0" r="2.0" fill="#d5313e"/>
<circle cx="244.6" cy="250.2" r="2.0" fill="#f5a06a"/>
<circle cx="208.9" cy="81.5" r="2.0" fill="#2a76b0"/>
<circle cx="211.1" cy="85.8" r="2.0" fill="#2a76b0"/>
<circle cx="219.1" cy="85.1" r="2.0" fill="#2a76b0"/>
<circle cx="223.5" cy="88.7" r="2.0" fill="#f5dc80"/>
<circle cx="237.3" cy="85.8" r="2.0" fill="#f5dc80"/>
<circle cx="238.0" cy="90.2" r="2.0" fill="#f5dc80"/>
<circle cx="243.1" cy="89.5" r="2.0" fill="#d5313e"/>
<circle cx="248.2" cy="88.7" r="2.0" fill="#d5313e"/>
<circle cx="244.6" cy="96.0" r="2.0" fill="#2a76b0"/>
<circle cx="240.2" cy="93.8" r="2.0" fill="#b9df8e"/>
<circle cx="214.7" cy="95.3" r="2.0" fill="#2a76b0"/>
<circle cx="216.2" cy="99.7" r="2.0" fill="#f5a06a"/>
<circle cx="226.4" cy="100.4" r="2.0" fill="#d5313e"/>
<circle cx="227.8" cy="98.2" r="2.0" fill="#f5a06a"/>
<circle cx="224.9" cy="103.3" r="2.0" fill="#d5313e"/>
<circle cx="208.2" cy="103.3" r="2.0" fill="#2a76b0"/>
<circle cx="209.6" cy="103.3" r="2.0" fill="#2a76b0"/>
<circle cx="206.0" cy="110.6" r="2.0" fill="#d5313e"/>
<circle cx="213.3" cy="111.3" r="2.0" fill="#2a76b0"/>
<circle cx="220.6" cy="110.6" r="2.0" fill="#f5dc80"/>
<circle cx="237.3" cy="104.7" r="2.0" fill="#d5313e"/>
<circle cx="238.0" cy="112.8" r="2.0" fill="#d5313e"/>
<circle cx="244.6" cy="101.8" r="2.0" fill="#f5dc80"/>
<circle cx="245.3" cy="109.8" r="2.0" fill="#f5dc80"/>
<circle cx="262.8" cy="98.2" r="2.0" fill="#f5a06a"/>
<circle cx="267.1" cy="98.9" r="2.0" fill="#f5a06a"/>
<circle cx="269.3" cy="98.9" r="2.0" fill="#d5313e"/>
<circle cx="271.5" cy="101.8" r="2.0" fill="#d5313e"/>
<circle cx="275.1" cy="98.9" r="2.0" fill="#d5313e"/>
<circle cx="279.5" cy="107.7" r="2.0" fill="#f5dc80"/>
<circle cx="274.4" cy="109.8" r="2.0" fill="#b9df8e"/>
<circle cx="268.6" cy="94.6" r="2.0" fill="#f5dc80"/>
<circle cx="257.7" cy="108.4" r="2.0" fill="#f5dc80"/>
<circle cx="259.9" cy="112.0" r="2.0" fill="#f5a06a"/>
<circle cx="262.8" cy="114.9" r="2.0" fill="#2a76b0"/>
<circle cx="275.1" cy="115.7" r="2.0" fill="#f5dc80"/>
<circle cx="207.5" cy="117.8" r="2.0" fill="#f5a06a"/>
<circle cx="212.6" cy="119.3" r="2.0" fill="#d5313e"/>
<circle cx="218.4" cy="121.5" r="2.0" fill="#d5313e"/>
<circle cx="227.8" cy="120.0" r="2.0" fill="#2a76b0"/>
<circle cx="227.1" cy="122.9" r="2.0" fill="#2a76b0"/>
<circle cx="222.0" cy="120.8" r="2.0" fill="#b9df8e"/>
<circle cx="235.1" cy="117.1" r="2.0" fill="#b9df8e"/>
<circle cx="239.5" cy="119.3" r="2.0" fill="#b9df8e"/>
<circle cx="243.8" cy="120.8" r="2.0" fill="#2a76b0"/>
<circle cx="248.9" cy="117.8" r="2.0" fill="#f5a06a"/>
<circle cx="249.7" cy="115.7" r="2.0" fill="#f5a06a"/>
<circle cx="232.9" cy="123.7" r="2.0" fill="#f5dc80"/>
<circle cx="219.8" cy="128.0" r="2.0" fill="#d5313e"/>
<circle cx="223.5" cy="129.5" r="2.0" fill="#f5a06a"/>
<circle cx="227.8" cy="130.2" r="2.0" fill="#d5313e"/>
<circle cx="237.3" cy="130.2" r="2.0" fill="#f5dc80"/>
<circle cx="244.6" cy="130.9" r="2.0" fill="#d5313e"/>
<circle cx="250.4" cy="125.1" r="2.0" fill="#f5a06a"/>
<circle cx="253.3" cy="127.3" r="2.0" fill="#d5313e"/>
<circle cx="256.2" cy="129.5" r="2.0" fill="#d5313e"/>
<circle cx="258.4" cy="130.9" r="2.0" fill="#d5313e"/>
<circle cx="262.0" cy="125.1" r="2.0" fill="#f5a06a"/>
<circle cx="262.8" cy="128.0" r="2.0" fill="#b9df8e"/>
<circle cx="268.6" cy="130.2" r="2.0" fill="#d5313e"/>
<circle cx="273.7" cy="126.6" r="2.0" fill="#f5a06a"/>
<circle cx="277.3" cy="129.5" r="2.0" fill="#f5a06a"/>
<circle cx="265.7" cy="133.9" r="2.0" fill="#f5dc80"/>
<circle cx="273.0" cy="133.1" r="2.0" fill="#f5a06a"/>
<circle cx="278.8" cy="135.3" r="2.0" fill="#f5a06a"/>
<circle cx="231.5" cy="136.0" r="2.0" fill="#b9df8e"/>
<circle cx="232.9" cy="138.2" r="2.0" fill="#d5313e"/>
<circle cx="258.4" cy="136.0" r="2.0" fill="#2a76b0"/>
<circle cx="251.1" cy="136.8" r="2.0" fill="#f5dc80"/>
<circle cx="214.7" cy="135.3" r="2.0" fill="#f5dc80"/>
<circle cx="209.6" cy="125.1" r="2.0" fill="#b9df8e"/>
<circle cx="224.9" cy="137.5" r="2.0" fill="#b9df8e"/>
<circle cx="286.4" cy="142.9" r="2.0" fill="#2a76b0"/>
<circle cx="288.6" cy="140.7" r="2.0" fill="#2a76b0"/>
<circle cx="297.3" cy="140.7" r="2.0" fill="#d5313e"/>
<circle cx="289.3" cy="148.0" r="2.0" fill="#d5313e"/>
<circle cx="299.5" cy="146.6" r="2.0" fill="#b9df8e"/>
<circle cx="295.8" cy="151.6" r="2.0" fill="#4fa6a0"/>
<circle cx="311.1" cy="150.2" r="2.0" fill="#d5313e"/>
<circle cx="314.8" cy="145.8" r="2.0" fill="#f5a06a"/>
<circle cx="317.7" cy="145.8" r="2.0" fill="#2a76b0"/>
<circle cx="318.4" cy="141.5" r="2.0" fill="#d5313e"/>
<circle cx="324.2" cy="145.8" r="2.0" fill="#f5dc80"/>
<circle cx="284.2" cy="155.3" r="2.0" fill="#d5313e"/>
<circle cx="286.4" cy="156.0" r="2.0" fill="#d5313e"/>
<circle cx="301.7" cy="154.6" r="2.0" fill="#d5313e"/>
<circle cx="293.6" cy="158.2" r="2.0" fill="#b9df8e"/>
<circle cx="302.4" cy="160.4" r="2.0" fill="#d5313e"/>
<circle cx="303.8" cy="162.6" r="2.0" fill="#d5313e"/>
<circle cx="282.7" cy="161.1" r="2.0" fill="#d5313e"/>
<circle cx="312.6" cy="163.3" r="2.0" fill="#d5313e"/>
<circle cx="313.3" cy="164.7" r="2.0" fill="#d5313e"/>
<circle cx="317.7" cy="158.2" r="2.0" fill="#f5dc80"/>
<circle cx="321.3" cy="158.2" r="2.0" fill="#d5313e"/>
<circle cx="330.0" cy="155.3" r="2.0" fill="#b9df8e"/>
<circle cx="341.7" cy="161.1" r="2.0" fill="#f5dc80"/>
<circle cx="323.5" cy="166.2" r="2.0" fill="#f5dc80"/>
<circle cx="326.4" cy="169.1" r="2.0" fill="#b9df8e"/>
<circle cx="292.2" cy="164.0" r="2.0" fill="#d5313e"/>
<circle cx="289.3" cy="167.7" r="2.0" fill="#d5313e"/>
<circle cx="293.6" cy="168.4" r="2.0" fill="#d5313e"/>
<circle cx="288.6" cy="171.3" r="2.0" fill="#d5313e"/>
<circle cx="299.5" cy="170.6" r="2.0" fill="#d5313e"/>
<circle cx="301.7" cy="171.3" r="2.0" fill="#d5313e"/>
<circle cx="303.8" cy="172.8" r="2.0" fill="#f5a06a"/>
<circle cx="295.1" cy="174.2" r="2.0" fill="#d5313e"/>
<circle cx="297.3" cy="174.9" r="2.0" fill="#d5313e"/>
<circle cx="292.9" cy="175.7" r="2.0" fill="#d5313e"/>
<circle cx="300.2" cy="174.2" r="2.0" fill="#d5313e"/>
<circle cx="305.3" cy="170.6" r="2.0" fill="#f5a06a"/>
<circle cx="310.4" cy="172.8" r="2.0" fill="#d5313e"/>
<circle cx="314.8" cy="172.0" r="2.0" fill="#d5313e"/>
<circle cx="313.3" cy="174.9" r="2.0" fill="#f5a06a"/>
<circle cx="282.7" cy="179.3" r="2.0" fill="#d5313e"/>
<circle cx="292.2" cy="178.6" r="2.0" fill="#d5313e"/>
<circle cx="296.6" cy="177.1" r="2.0" fill="#d5313e"/>
<circle cx="287.1" cy="182.2" r="2.0" fill="#f5dc80"/>
<circle cx="290.7" cy="185.1" r="2.0" fill="#b9df8e"/>
<circle cx="303.8" cy="182.2" r="2.0" fill="#2a76b0"/>
<circle cx="306.7" cy="180.8" r="2.0" fill="#d5313e"/>
<circle cx="312.6" cy="182.2" r="2.0" fill="#f5a06a"/>
<circle cx="320.6" cy="177.8" r="2.0" fill="#d5313e"/>
<circle cx="331.5" cy="174.9" r="2.0" fill="#f5a06a"/>
<circle cx="334.4" cy="179.3" r="2.0" fill="#d5313e"/>
<circle cx="341.7" cy="177.8" r="2.0" fill="#f5dc80"/>
<circle cx="320.6" cy="183.7" r="2.0" fill="#d5313e"/>
<circle cx="322.8" cy="182.9" r="2.0" fill="#d5313e"/>
<circle cx="325.7" cy="183.7" r="2.0" fill="#d5313e"/>
<circle cx="316.9" cy="186.6" r="2.0" fill="#d5313e"/>
<circle cx="314.8" cy="188.0" r="2.0" fill="#d5313e"/>
<circle cx="319.8" cy="186.6" r="2.0" fill="#d5313e"/>
<circle cx="327.1" cy="186.6" r="2.0" fill="#d5313e"/>
<circle cx="330.0" cy="188.0" r="2.0" fill="#f5a06a"/>
<circle cx="332.9" cy="185.1" r="2.0" fill="#d5313e"/>
<circle cx="336.6" cy="184.4" r="2.0" fill="#d5313e"/>
<circle cx="341.7" cy="187.3" r="2.0" fill="#d5313e"/>
<circle cx="331.5" cy="190.9" r="2.0" fill="#d5313e"/>
<circle cx="333.7" cy="190.2" r="2.0" fill="#d5313e"/>
<circle cx="325.7" cy="192.4" r="2.0" fill="#d5313e"/>
<circle cx="322.8" cy="190.2" r="2.0" fill="#d5313e"/>
<circle cx="318.4" cy="190.9" r="2.0" fill="#f5a06a"/>
<circle cx="311.1" cy="192.4" r="2.0" fill="#d5313e"/>
<circle cx="309.7" cy="195.3" r="2.0" fill="#d5313e"/>
<circle cx="316.9" cy="195.3" r="2.0" fill="#d5313e"/>
<circle cx="330.0" cy="195.3" r="2.0" fill="#d5313e"/>
<circle cx="341.7" cy="193.9" r="2.0" fill="#b9df8e"/>
<circle cx="343.1" cy="195.3" r="2.0" fill="#f5dc80"/>
<circle cx="307.5" cy="188.0" r="2.0" fill="#f5dc80"/>
<circle cx="294.4" cy="185.1" r="2.0" fill="#f5a06a"/>
<circle cx="284.9" cy="190.9" r="2.0" fill="#d5313e"/>
<circle cx="286.4" cy="193.9" r="2.0" fill="#d5313e"/>
<circle cx="295.1" cy="195.3" r="2.0" fill="#d5313e"/>
<circle cx="295.1" cy="198.2" r="2.0" fill="#d5313e"/>
<circle cx="305.3" cy="198.2" r="2.0" fill="#f5a06a"/>
<circle cx="322.8" cy="198.2" r="2.0" fill="#d5313e"/>
<circle cx="334.4" cy="197.5" r="2.0" fill="#d5313e"/>
<circle cx="300.9" cy="193.9" r="2.0" fill="#f5dc80"/>
<circle cx="284.9" cy="202.9" r="2.0" fill="#d5313e"/>
<circle cx="282.7" cy="205.8" r="2.0" fill="#f5a06a"/>
<circle cx="293.6" cy="205.8" r="2.0" fill="#d5313e"/>
<circle cx="298.0" cy="201.5" r="2.0" fill="#d5313e"/>
<circle cx="294.4" cy="210.9" r="2.0" fill="#2a76b0"/>
<circle cx="300.2" cy="208.7" r="2.0" fill="#f5a06a"/>
<circle cx="303.8" cy="209.5" r="2.0" fill="#f5a06a"/>
<circle cx="302.4" cy="213.8" r="2.0" fill="#d5313e"/>
<circle cx="306.0" cy="216.0" r="2.0" fill="#b9df8e"/>
<circle cx="307.5" cy="202.9" r="2.0" fill="#d5313e"/>
<circle cx="314.0" cy="203.6" r="2.0" fill="#d5313e"/>
<circle cx="317.7" cy="201.5" r="2.0" fill="#d5313e"/>
<circle cx="319.8" cy="200.7" r="2.0" fill="#d5313e"/>
<circle cx="324.2" cy="201.5" r="2.0" fill="#d5313e"/>
<circle cx="328.6" cy="202.2" r="2.0" fill="#d5313e"/>
<circle cx="332.2" cy="201.5" r="2.0" fill="#d5313e"/>
<circle cx="326.4" cy="205.8" r="2.0" fill="#d5313e"/>
<circle cx="315.5" cy="208.7" r="2.0" fill="#2a76b0"/>
<circle cx="315.8" cy="210.9" r="2.0" fill="#2a76b0"/>
<circle cx="316.9" cy="215.3" r="2.0" fill="#b9df8e"/>
<circle cx="322.0" cy="213.1" r="2.0" fill="#b9df8e"/>
<circle cx="324.9" cy="213.8" r="2.0" fill="#d5313e"/>
<circle cx="335.9" cy="205.8" r="2.0" fill="#d5313e"/>
<circle cx="338.0" cy="209.5" r="2.0" fill="#d5313e"/>
<circle cx="330.0" cy="216.7" r="2.0" fill="#f5a06a"/>
<circle cx="325.7" cy="219.7" r="2.0" fill="#d5313e"/>
<circle cx="322.8" cy="222.6" r="2.0" fill="#d5313e"/>
<circle cx="286.4" cy="217.5" r="2.0" fill="#f5a06a"/>
<circle cx="300.9" cy="223.3" r="2.0" fill="#d5313e"/>
<circle cx="303.8" cy="224.0" r="2.0" fill="#b9df8e"/>
<circle cx="298.0" cy="226.2" r="2.0" fill="#d5313e"/>
<circle cx="298.7" cy="228.4" r="2.0" fill="#d5313e"/>
<circle cx="287.8" cy="228.4" r="2.0" fill="#d5313e"/>
<circle cx="290.0" cy="228.4" r="2.0" fill="#d5313e"/>
<circle cx="284.9" cy="231.3" r="2.0" fill="#d5313e"/>
<circle cx="284.2" cy="233.5" r="2.0" fill="#d5313e"/>
<circle cx="282.7" cy="234.2" r="2.0" fill="#d5313e"/>
<circle cx="290.7" cy="237.8" r="2.0" fill="#d5313e"/>
<circle cx="340.2" cy="200.7" r="2.0" fill="#f5dc80"/>
<circle cx="291.5" cy="101.8" r="2.0" fill="#b9df8e"/>
<circle cx="294.4" cy="104.0" r="2.0" fill="#d5313e"/>
<circle cx="293.6" cy="106.9" r="2.0" fill="#f5a06a"/>
<circle cx="300.2" cy="104.7" r="2.0" fill="#d5313e"/>
<circle cx="303.1" cy="106.9" r="2.0" fill="#d5313e"/>
<circle cx="290.0" cy="109.8" r="2.0" fill="#d5313e"/>
<circle cx="282.7" cy="106.9" r="2.0" fill="#f5dc80"/>
<circle cx="294.4" cy="112.8" r="2.0" fill="#f5dc80"/>
<circle cx="313.3" cy="115.7" r="2.0" fill="#f5a06a"/>
<circle cx="285.6" cy="123.7" r="2.0" fill="#b9df8e"/>
<circle cx="290.0" cy="122.9" r="2.0" fill="#d5313e"/>
<circle cx="302.4" cy="124.4" r="2.0" fill="#f5dc80"/>
<circle cx="290.7" cy="131.7" r="2.0" fill="#f5dc80"/>
<circle cx="298.0" cy="132.1" r="2.0" fill="#2a76b0"/>
<circle cx="282.7" cy="134.6" r="2.0" fill="#b9df8e"/>
<circle cx="311.1" cy="134.6" r="2.0" fill="#b9df8e"/>
<circle cx="315.5" cy="136.8" r="2.0" fill="#d5313e"/>
<circle cx="292.9" cy="139.0" r="2.0" fill="#2a76b0"/>
<circle cx="318.4" cy="139.0" r="2.0" fill="#d5313e"/>
<circle cx="87.8" cy="30.9" r="2.0" fill="#b9df8e"/>
<circle cx="92.1" cy="33.8" r="2.0" fill="#2a76b0"/>
<circle cx="93.6" cy="36.0" r="2.0" fill="#2a76b0"/>
<circle cx="98.4" cy="33.4" r="2.0" fill="#f5a06a"/>
<circle cx="88.4" cy="38.9" r="2.0" fill="#2a76b0"/>
<circle cx="99.1" cy="36.7" r="2.0" fill="#4fa6a0"/>
<circle cx="100.3" cy="38.9" r="2.0" fill="#2a76b0"/>
<circle cx="103.5" cy="39.7" r="2.0" fill="#2a76b0"/>
<circle cx="101.3" cy="41.8" r="2.0" fill="#2a76b0"/>
<circle cx="97.7" cy="44.0" r="2.0" fill="#2a76b0"/>
<circle cx="109.3" cy="38.2" r="2.0" fill="#2a76b0"/>
<circle cx="116.9" cy="35.3" r="2.0" fill="#f5dc80"/>
<circle cx="122.1" cy="37.8" r="2.0" fill="#2a76b0"/>
<circle cx="124.6" cy="38.6" r="2.0" fill="#d5313e"/>
<circle cx="87.5" cy="42.6" r="2.0" fill="#b9df8e"/>
<circle cx="93.0" cy="43.3" r="2.0" fill="#f5dc80"/>
<circle cx="106.4" cy="42.6" r="2.0" fill="#f5dc80"/>
<circle cx="104.2" cy="47.7" r="2.0" fill="#f5a06a"/>
<circle cx="115.1" cy="45.9" r="2.0" fill="#2a76b0"/>
<circle cx="120.2" cy="46.2" r="2.0" fill="#2a76b0"/>
<circle cx="118.0" cy="48.4" r="2.0" fill="#2a76b0"/>
<circle cx="104.9" cy="51.3" r="2.0" fill="#d5313e"/>
<circle cx="107.1" cy="52.8" r="2.0" fill="#d5313e"/>
<circle cx="100.6" cy="52.8" r="2.0" fill="#f5a06a"/>
<circle cx="92.1" cy="52.8" r="2.0" fill="#4fa6a0"/>
<circle cx="90.4" cy="53.8" r="2.0" fill="#4fa6a0"/>
<circle cx="97.7" cy="55.7" r="2.0" fill="#2a76b0"/>
<circle cx="103.5" cy="54.6" r="2.0" fill="#2a76b0"/>
<circle cx="81.7" cy="58.6" r="2.0" fill="#2a76b0"/>
<circle cx="86.0" cy="57.8" r="2.0" fill="#2a76b0"/>
<circle cx="93.0" cy="58.6" r="2.0" fill="#b9df8e"/>
<circle cx="89.7" cy="61.9" r="2.0" fill="#2a76b0"/>
<circle cx="98.4" cy="58.6" r="2.0" fill="#2a76b0"/>
<circle cx="107.9" cy="59.0" r="2.0" fill="#2a76b0"/>
<circle cx="113.7" cy="59.0" r="2.0" fill="#f5a06a"/>
<circle cx="118.0" cy="54.9" r="2.0" fill="#f5a06a"/>
<circle cx="122.4" cy="56.4" r="2.0" fill="#f5dc80"/>
<circle cx="127.5" cy="55.7" r="2.0" fill="#f5a06a"/>
<circle cx="123.9" cy="59.3" r="2.0" fill="#b9df8e"/>
<circle cx="114.4" cy="62.9" r="2.0" fill="#2a76b0"/>
<circle cx="123.6" cy="63.4" r="2.0" fill="#2a76b0"/>
<circle cx="81.7" cy="64.8" r="2.0" fill="#f5dc80"/>
<circle cx="91.8" cy="65.1" r="2.0" fill="#b9df8e"/>
<circle cx="96.2" cy="66.6" r="2.0" fill="#f5dc80"/>
<circle cx="100.6" cy="67.7" r="2.0" fill="#d5313e"/>
<circle cx="109.3" cy="66.6" r="2.0" fill="#2a76b0"/>
<circle cx="77.3" cy="67.3" r="2.0" fill="#2a76b0"/>
<circle cx="74.4" cy="69.2" r="2.0" fill="#2a76b0"/>
<circle cx="79.5" cy="70.2" r="2.0" fill="#2a76b0"/>
<circle cx="80.9" cy="72.1" r="2.0" fill="#2a76b0"/>
<circle cx="75.8" cy="75.3" r="2.0" fill="#2a76b0"/>
<circle cx="72.2" cy="77.9" r="2.0" fill="#2a76b0"/>
<circle cx="104.2" cy="73.1" r="2.0" fill="#2a76b0"/>
<circle cx="102.0" cy="75.0" r="2.0" fill="#2a76b0"/>
<circle cx="108.6" cy="76.0" r="2.0" fill="#2a76b0"/>
<circle cx="112.2" cy="78.2" r="2.0" fill="#2a76b0"/>
<circle cx="121.0" cy="68.8" r="2.0" fill="#2a76b0"/>
<circle cx="122.4" cy="67.3" r="2.0" fill="#2a76b0"/>
<circle cx="127.5" cy="68.0" r="2.0" fill="#2a76b0"/>
<circle cx="115.1" cy="70.2" r="2.0" fill="#f5dc80"/>
<circle cx="123.9" cy="75.0" r="2.0" fill="#2a76b0"/>
<circle cx="118.0" cy="76.8" r="2.0" fill="#f5dc80"/>
<circle cx="90.4" cy="70.9" r="2.0" fill="#b9df8e"/>
<circle cx="80.2" cy="82.9" r="2.0" fill="#f5dc80"/>
<circle cx="82.4" cy="86.6" r="2.0" fill="#f5a06a"/>
<circle cx="87.8" cy="85.1" r="2.0" fill="#2a76b0"/>
<circle cx="88.2" cy="88.0" r="2.0" fill="#2a76b0"/>
<circle cx="88.9" cy="91.6" r="2.0" fill="#2a76b0"/>
<circle cx="92.6" cy="94.6" r="2.0" fill="#2a76b0"/>
<circle cx="90.4" cy="94.6" r="2.0" fill="#2a76b0"/>
<circle cx="93.0" cy="84.4" r="2.0" fill="#b9df8e"/>
<circle cx="93.0" cy="88.7" r="2.0" fill="#b9df8e"/>
<circle cx="99.1" cy="90.9" r="2.0" fill="#2a76b0"/>
<circle cx="99.1" cy="82.2" r="2.0" fill="#2a76b0"/>
<circle cx="104.2" cy="82.2" r="2.0" fill="#2a76b0"/>
<circle cx="107.1" cy="82.9" r="2.0" fill="#2a76b0"/>
<circle cx="112.2" cy="85.8" r="2.0" fill="#2a76b0"/>
<circle cx="113.7" cy="86.6" r="2.0" fill="#2a76b0"/>
<circle cx="111.5" cy="81.5" r="2.0" fill="#d5313e"/>
<circle cx="115.9" cy="80.7" r="2.0" fill="#2a76b0"/>
<circle cx="103.5" cy="88.7" r="2.0" fill="#b9df8e"/>
<circle cx="107.9" cy="93.8" r="2.0" fill="#b9df8e"/>
<circle cx="114.4" cy="93.1" r="2.0" fill="#2a76b0"/>
<circle cx="121.7" cy="92.4" r="2.0" fill="#d5313e"/>
<circle cx="120.2" cy="96.7" r="2.0" fill="#f5a06a"/>
<circle cx="118.8" cy="96.0" r="2.0" fill="#f5a06a"/>
<circle cx="126.8" cy="90.9" r="2.0" fill="#b9df8e"/>
<circle cx="129.0" cy="86.6" r="2.0" fill="#d5313e"/>
<circle cx="67.8" cy="96.7" r="2.0" fill="#2a76b0"/>
<circle cx="72.2" cy="99.7" r="2.0" fill="#f5a06a"/>
<circle cx="75.8" cy="101.1" r="2.0" fill="#2a76b0"/>
<circle cx="78.0" cy="100.4" r="2.0" fill="#2a76b0"/>
<circle cx="80.2" cy="99.7" r="2.0" fill="#2a76b0"/>
<circle cx="83.1" cy="98.2" r="2.0" fill="#2a76b0"/>
<circle cx="80.9" cy="104.0" r="2.0" fill="#2a76b0"/>
<circle cx="80.9" cy="93.8" r="2.0" fill="#b9df8e"/>
<circle cx="100.6" cy="97.5" r="2.0" fill="#b9df8e"/>
<circle cx="102.0" cy="101.8" r="2.0" fill="#f5dc80"/>
<circle cx="113.7" cy="99.7" r="2.0" fill="#f5dc80"/>
<circle cx="116.6" cy="103.3" r="2.0" fill="#f5dc80"/>
<circle cx="121.0" cy="101.1" r="2.0" fill="#f5dc80"/>
<circle cx="126.8" cy="100.4" r="2.0" fill="#f5dc80"/>
<circle cx="129.7" cy="106.2" r="2.0" fill="#d5313e"/>
<circle cx="95.5" cy="106.2" r="2.0" fill="#2a76b0"/>
<circle cx="101.3" cy="110.6" r="2.0" fill="#2a76b0"/>
<circle cx="102.0" cy="114.2" r="2.0" fill="#b9df8e"/>
<circle cx="98.4" cy="116.4" r="2.0" fill="#b9df8e"/>
<circle cx="107.9" cy="115.7" r="2.0" fill="#d5313e"/>
<circle cx="111.5" cy="114.2" r="2.0" fill="#d5313e"/>
<circle cx="126.8" cy="113.5" r="2.0" fill="#2a76b0"/>
<circle cx="128.2" cy="119.3" r="2.0" fill="#f5dc80"/>
<circle cx="102.0" cy="123.7" r="2.0" fill="#2a76b0"/>
<circle cx="105.7" cy="122.9" r="2.0" fill="#b9df8e"/>
<circle cx="104.9" cy="126.6" r="2.0" fill="#d5313e"/>
<circle cx="96.2" cy="128.0" r="2.0" fill="#f5dc80"/>
<circle cx="102.8" cy="130.2" r="2.0" fill="#2a76b0"/>
<circle cx="100.6" cy="133.9" r="2.0" fill="#2a76b0"/>
<circle cx="104.9" cy="133.9" r="2.0" fill="#2a76b0"/>
<circle cx="101.3" cy="136.8" r="2.0" fill="#2a76b0"/>
<circle cx="107.9" cy="138.2" r="2.0" fill="#2a76b0"/>
<circle cx="114.4" cy="129.5" r="2.0" fill="#2a76b0"/>
<circle cx="118.0" cy="126.6" r="2.0" fill="#f5a06a"/>
<circle cx="123.9" cy="129.5" r="2.0" fill="#2a76b0"/>
<circle cx="120.2" cy="136.8" r="2.0" fill="#f5a06a"/>
<circle cx="116.6" cy="122.2" r="2.0" fill="#f5dc80"/>
</g>
<line x1="54.5" y1="20" x2="54.5" y2="261" stroke="#9a9a9a" stroke-width="1.2"/>
<line x1="54" y1="261.5" x2="358" y2="261.5" stroke="#9a9a9a" stroke-width="1.2"/>
<line x1="56.519999999999996" y1="261.5" x2="56.519999999999996" y2="263" stroke="#bdbdbd" stroke-width="0.8"/>
<line x1="69.01" y1="261.5" x2="69.01" y2="263" stroke="#bdbdbd" stroke-width="0.8"/>
<line x1="81.5" y1="261.5" x2="81.5" y2="263" stroke="#bdbdbd" stroke-width="0.8"/>
<line x1="93.99" y1="261.5" x2="93.99" y2="263" stroke="#bdbdbd" stroke-width="0.8"/>
<line x1="106.48" y1="261.5" x2="106.48" y2="263" stroke="#bdbdbd" stroke-width="0.8"/>
<line x1="118.97" y1="261.5" x2="118.97" y2="263" stroke="#bdbdbd" stroke-width="0.8"/>
<line x1="131.46" y1="261.5" x2="131.46" y2="263" stroke="#bdbdbd" stroke-width="0.8"/>
<line x1="143.95" y1="261.5" x2="143.95" y2="263" stroke="#bdbdbd" stroke-width="0.8"/>
<line x1="156.44" y1="261.5" x2="156.44" y2="263" stroke="#bdbdbd" stroke-width="0.8"/>
<line x1="168.93" y1="261.5" x2="168.93" y2="263" stroke="#bdbdbd" stroke-width="0.8"/>
<line x1="181.42000000000002" y1="261.5" x2="181.42000000000002" y2="263" stroke="#bdbdbd" stroke-width="0.8"/>
<line x1="193.91000000000003" y1="261.5" x2="193.91000000000003" y2="263" stroke="#bdbdbd" stroke-width="0.8"/>
<line x1="206.4" y1="261.5" x2="206.4" y2="263" stroke="#bdbdbd" stroke-width="0.8"/>
<line x1="218.89000000000001" y1="261.5" x2="218.89000000000001" y2="263" stroke="#bdbdbd" stroke-width="0.8"/>
<line x1="231.38000000000002" y1="261.5" x2="231.38000000000002" y2="263" stroke="#bdbdbd" stroke-width="0.8"/>
<line x1="243.87" y1="261.5" x2="243.87" y2="263" stroke="#bdbdbd" stroke-width="0.8"/>
<line x1="256.36" y1="261.5" x2="256.36" y2="263" stroke="#bdbdbd" stroke-width="0.8"/>
<line x1="268.85" y1="261.5" x2="268.85" y2="263" stroke="#bdbdbd" stroke-width="0.8"/>
<line x1="281.34000000000003" y1="261.5" x2="281.34000000000003" y2="263" stroke="#bdbdbd" stroke-width="0.8"/>
<line x1="293.83000000000004" y1="261.5" x2="293.83000000000004" y2="263" stroke="#bdbdbd" stroke-width="0.8"/>
<line x1="306.32000000000005" y1="261.5" x2="306.32000000000005" y2="263" stroke="#bdbdbd" stroke-width="0.8"/>
<line x1="318.81" y1="261.5" x2="318.81" y2="263" stroke="#bdbdbd" stroke-width="0.8"/>
<line x1="331.3" y1="261.5" x2="331.3" y2="263" stroke="#bdbdbd" stroke-width="0.8"/>
<line x1="343.79" y1="261.5" x2="343.79" y2="263" stroke="#bdbdbd" stroke-width="0.8"/>
<line x1="54.5" y1="21.310000000000002" x2="53" y2="21.310000000000002" stroke="#bdbdbd" stroke-width="0.8"/>
<line x1="54.5" y1="30.54" x2="53" y2="30.54" stroke="#bdbdbd" stroke-width="0.8"/>
<line x1="54.5" y1="39.769999999999996" x2="53" y2="39.769999999999996" stroke="#bdbdbd" stroke-width="0.8"/>
<line x1="54.5" y1="49.0" x2="53" y2="49.0" stroke="#bdbdbd" stroke-width="0.8"/>
<line x1="54.5" y1="58.230000000000004" x2="53" y2="58.230000000000004" stroke="#bdbdbd" stroke-width="0.8"/>
<line x1="54.5" y1="67.46000000000001" x2="53" y2="67.46000000000001" stroke="#bdbdbd" stroke-width="0.8"/>
<line x1="54.5" y1="76.69" x2="53" y2="76.69" stroke="#bdbdbd" stroke-width="0.8"/>
<line x1="54.5" y1="85.92" x2="53" y2="85.92" stroke="#bdbdbd" stroke-width="0.8"/>
<line x1="54.5" y1="95.15" x2="53" y2="95.15" stroke="#bdbdbd" stroke-width="0.8"/>
<line x1="54.5" y1="104.38" x2="53" y2="104.38" stroke="#bdbdbd" stroke-width="0.8"/>
<line x1="54.5" y1="113.61" x2="53" y2="113.61" stroke="#bdbdbd" stroke-width="0.8"/>
<line x1="54.5" y1="122.84" x2="53" y2="122.84" stroke="#bdbdbd" stroke-width="0.8"/>
<line x1="54.5" y1="132.07" x2="53" y2="132.07" stroke="#bdbdbd" stroke-width="0.8"/>
<line x1="54.5" y1="141.3" x2="53" y2="141.3" stroke="#bdbdbd" stroke-width="0.8"/>
<line x1="54.5" y1="150.53" x2="53" y2="150.53" stroke="#bdbdbd" stroke-width="0.8"/>
<line x1="54.5" y1="159.76" x2="53" y2="159.76" stroke="#bdbdbd" stroke-width="0.8"/>
<line x1="54.5" y1="168.98999999999998" x2="53" y2="168.98999999999998" stroke="#bdbdbd" stroke-width="0.8"/>
<line x1="54.5" y1="178.22" x2="53" y2="178.22" stroke="#bdbdbd" stroke-width="0.8"/>
<line x1="54.5" y1="187.45" x2="53" y2="187.45" stroke="#bdbdbd" stroke-width="0.8"/>
<line x1="54.5" y1="196.68" x2="53" y2="196.68" stroke="#bdbdbd" stroke-width="0.8"/>
<line x1="54.5" y1="205.91" x2="53" y2="205.91" stroke="#bdbdbd" stroke-width="0.8"/>
<line x1="54.5" y1="215.14" x2="53" y2="215.14" stroke="#bdbdbd" stroke-width="0.8"/>
<line x1="54.5" y1="224.37" x2="53" y2="224.37" stroke="#bdbdbd" stroke-width="0.8"/>
<line x1="54.5" y1="233.6" x2="53" y2="233.6" stroke="#bdbdbd" stroke-width="0.8"/>
<line x1="54.5" y1="242.82999999999998" x2="53" y2="242.82999999999998" stroke="#bdbdbd" stroke-width="0.8"/>
<line x1="54.5" y1="252.06" x2="53" y2="252.06" stroke="#bdbdbd" stroke-width="0.8"/>
<line x1="81.5" y1="260" x2="81.5" y2="264" stroke="#9a9a9a" stroke-width="1"/>
<line x1="143.9" y1="260" x2="143.9" y2="264" stroke="#9a9a9a" stroke-width="1"/>
<line x1="206.4" y1="260" x2="206.4" y2="264" stroke="#9a9a9a" stroke-width="1"/>
<line x1="268.8" y1="260" x2="268.8" y2="264" stroke="#9a9a9a" stroke-width="1"/>
<line x1="331.3" y1="260" x2="331.3" y2="264" stroke="#9a9a9a" stroke-width="1"/>
<line x1="55.5" y1="49.0" x2="52" y2="49.0" stroke="#9a9a9a" stroke-width="1"/>
<line x1="55.5" y1="95.1" x2="52" y2="95.1" stroke="#9a9a9a" stroke-width="1"/>
<line x1="55.5" y1="141.2" x2="52" y2="141.2" stroke="#9a9a9a" stroke-width="1"/>
<line x1="55.5" y1="187.4" x2="52" y2="187.4" stroke="#9a9a9a" stroke-width="1"/>
<line x1="55.5" y1="233.6" x2="52" y2="233.6" stroke="#9a9a9a" stroke-width="1"/>
<circle cx="361.5" cy="23.8" r="2.2" fill="none" stroke="#6b6b55" stroke-width="1.3"/>
<circle cx="360.9" cy="23.2" r="1.6" fill="none" stroke="#f0c850" stroke-width="0.6" opacity="0.6"/>
<line x1="357.7" y1="30.5" x2="357.7" y2="41" stroke="#9ec3dc" stroke-width="0.8"/>
<line x1="357.7" y1="69" x2="357.7" y2="87" stroke="#9ec3dc" stroke-width="0.8"/>
<line x1="357.7" y1="136" x2="357.7" y2="158" stroke="#9ec3dc" stroke-width="0.8"/><rect x="48" y="8" width="39.5" height="11.5" fill="#fff"/><path d="M359.5,34 h4 M361.5,32 v4" stroke="#c0c0c0" stroke-width="0.9" fill="none"/>
<circle cx="361.5" cy="43" r="1.6" fill="none" stroke="#c4c4c4" stroke-width="0.9"/>
<rect x="359.7" y="51.1" width="3.6" height="3.2" fill="none" stroke="#c4c4c4" stroke-width="0.9"/>
<path d="M359.7,64.0 L363.3,61.0 M359.7,61.5 h2" stroke="#c4c4c4" stroke-width="0.9" fill="none"/>
<path d="M359.7,71.4 h3.6 M359.7,73.4 h3.6" stroke="#c4c4c4" stroke-width="0.9" fill="none"/>
<path d="M359.5,81 h4 M361.5,79 v4" stroke="#c0c0c0" stroke-width="0.9" fill="none"/>
<circle cx="361.5" cy="92" r="1.6" fill="none" stroke="#c4c4c4" stroke-width="0.9"/>
<rect x="359.7" y="100.30000000000001" width="3.6" height="3.2" fill="none" stroke="#c4c4c4" stroke-width="0.9"/>
<path d="M359.7,113.2 L363.3,110.2 M359.7,110.7 h2" stroke="#c4c4c4" stroke-width="0.9" fill="none"/>
<path d="M359.7,119.5 h3.6 M359.7,121.5 h3.6" stroke="#c4c4c4" stroke-width="0.9" fill="none"/>
<path d="M359.5,130.3 h4 M361.5,128.3 v4" stroke="#c0c0c0" stroke-width="0.9" fill="none"/>
<circle cx="361.5" cy="139" r="1.6" fill="none" stroke="#c4c4c4" stroke-width="0.9"/>
<rect x="359.7" y="148.4" width="3.6" height="3.2" fill="none" stroke="#c4c4c4" stroke-width="0.9"/>
<rect x="432.5" y="11.5" width="315.0" height="251.0" fill="#f7f7f7"/>
<rect x="737" y="11.5" width="10.5" height="252.5" fill="#f7f7f7"/>
<line x1="458.7" y1="20" x2="458.7" y2="261.5" stroke="#ededee" stroke-width="1"/>
<line x1="521.9" y1="20" x2="521.9" y2="261.5" stroke="#ededee" stroke-width="1"/>
<line x1="585.0" y1="20" x2="585.0" y2="261.5" stroke="#ededee" stroke-width="1"/>
<line x1="648.2" y1="20" x2="648.2" y2="261.5" stroke="#ededee" stroke-width="1"/>
<line x1="711.4" y1="20" x2="711.4" y2="261.5" stroke="#ededee" stroke-width="1"/>
<line x1="432.5" y1="20.6" x2="737" y2="20.6" stroke="#ededee" stroke-width="1"/>
<line x1="432.5" y1="62.1" x2="737" y2="62.1" stroke="#ededee" stroke-width="1"/>
<line x1="432.5" y1="103.6" x2="737" y2="103.6" stroke="#ededee" stroke-width="1"/>
<line x1="432.5" y1="145.1" x2="737" y2="145.1" stroke="#ededee" stroke-width="1"/>
<line x1="432.5" y1="186.6" x2="737" y2="186.6" stroke="#ededee" stroke-width="1"/>
<line x1="432.5" y1="228.1" x2="737" y2="228.1" stroke="#ededee" stroke-width="1"/>
<g filter="url(#bl)">
<circle cx="533.9" cy="59.7" r="1.8" fill="#a6cee3"/>
<circle cx="531.5" cy="55.5" r="1.8" fill="#a6cee3"/>
<circle cx="464.9" cy="121.2" r="1.8" fill="#a6cee3"/>
<circle cx="469.6" cy="123.9" r="1.8" fill="#a6cee3"/>
<circle cx="477.6" cy="126.5" r="1.8" fill="#a6cee3"/>
<circle cx="478.8" cy="122.4" r="1.8" fill="#a6cee3"/>
<circle cx="569.5" cy="151.7" r="1.8" fill="#a6cee3"/>
<circle cx="584.0" cy="147.3" r="1.8" fill="#a6cee3"/>
<circle cx="579.9" cy="145.5" r="1.8" fill="#a6cee3"/>
<circle cx="577.8" cy="140.9" r="1.8" fill="#a6cee3"/>
<circle cx="569.1" cy="135.6" r="1.8" fill="#a6cee3"/>
<circle cx="567.2" cy="131.6" r="1.8" fill="#a6cee3"/>
<circle cx="561.3" cy="199.1" r="1.8" fill="#a6cee3"/>
<circle cx="557.9" cy="196.8" r="1.8" fill="#a6cee3"/>
<circle cx="554.1" cy="193.2" r="1.8" fill="#a6cee3"/>
<circle cx="553.9" cy="188.7" r="1.8" fill="#a6cee3"/>
<circle cx="552.0" cy="184.3" r="1.8" fill="#a6cee3"/>
<circle cx="553.2" cy="180.4" r="1.8" fill="#a6cee3"/>
<circle cx="607.6" cy="181.7" r="1.8" fill="#a6cee3"/>
<circle cx="610.2" cy="176.9" r="1.8" fill="#a6cee3"/>
<circle cx="610.9" cy="172.1" r="1.8" fill="#a6cee3"/>
<circle cx="609.6" cy="163.0" r="1.8" fill="#a6cee3"/>
<circle cx="584.0" cy="63.3" r="1.8" fill="#a6cee3"/>
<circle cx="589.3" cy="63.4" r="1.8" fill="#a6cee3"/>
<circle cx="593.3" cy="61.2" r="1.8" fill="#a6cee3"/>
<circle cx="491.1" cy="78.4" r="1.8" fill="#a6cee3"/>
<circle cx="490.0" cy="74.1" r="1.8" fill="#a6cee3"/>
<circle cx="485.7" cy="71.9" r="1.8" fill="#a6cee3"/>
<circle cx="716.0" cy="181.5" r="1.8" fill="#a6cee3"/>
<circle cx="469.4" cy="108.6" r="1.8" fill="#a6cee3"/>
<circle cx="465.1" cy="109.2" r="1.8" fill="#a6cee3"/>
<circle cx="461.1" cy="111.3" r="1.8" fill="#a6cee3"/>
<circle cx="469.6" cy="103.8" r="1.8" fill="#a6cee3"/>
<circle cx="515.5" cy="164.7" r="1.8" fill="#a6cee3"/>
<circle cx="509.4" cy="117.2" r="1.8" fill="#a6cee3"/>
<circle cx="505.5" cy="118.1" r="1.8" fill="#a6cee3"/>
<circle cx="504.6" cy="122.4" r="1.8" fill="#a6cee3"/>
<circle cx="503.9" cy="77.2" r="1.8" fill="#a6cee3"/>
<circle cx="501.5" cy="72.9" r="1.8" fill="#a6cee3"/>
<circle cx="496.2" cy="73.6" r="1.8" fill="#a6cee3"/>
<circle cx="548.6" cy="189.0" r="1.8" fill="#a6cee3"/>
<circle cx="545.7" cy="184.8" r="1.8" fill="#a6cee3"/>
<circle cx="611.3" cy="132.0" r="1.8" fill="#a6cee3"/>
<circle cx="607.4" cy="129.2" r="1.8" fill="#a6cee3"/>
<circle cx="603.5" cy="130.2" r="1.8" fill="#a6cee3"/>
<circle cx="600.4" cy="126.4" r="1.8" fill="#a6cee3"/>
<circle cx="597.2" cy="122.0" r="1.8" fill="#a6cee3"/>
<circle cx="593.4" cy="118.3" r="1.8" fill="#a6cee3"/>
<circle cx="510.2" cy="99.5" r="1.8" fill="#a6cee3"/>
<circle cx="506.9" cy="103.1" r="1.8" fill="#a6cee3"/>
<circle cx="594.2" cy="145.4" r="1.8" fill="#a6cee3"/>
<circle cx="596.4" cy="140.7" r="1.8" fill="#a6cee3"/>
<circle cx="594.7" cy="136.8" r="1.8" fill="#a6cee3"/>
<circle cx="594.1" cy="132.7" r="1.8" fill="#a6cee3"/>
<circle cx="585.3" cy="128.7" r="1.8" fill="#a6cee3"/>
<circle cx="520.4" cy="141.9" r="1.8" fill="#a6cee3"/>
<circle cx="523.4" cy="137.4" r="1.8" fill="#a6cee3"/>
<circle cx="523.4" cy="132.5" r="1.8" fill="#a6cee3"/>
<circle cx="565.1" cy="143.6" r="1.8" fill="#a6cee3"/>
<circle cx="677.7" cy="220.4" r="1.8" fill="#a6cee3"/>
<circle cx="673.6" cy="222.7" r="1.8" fill="#a6cee3"/>
<circle cx="669.6" cy="224.9" r="1.8" fill="#a6cee3"/>
<circle cx="667.0" cy="229.4" r="1.8" fill="#a6cee3"/>
<circle cx="465.7" cy="84.9" r="1.8" fill="#a6cee3"/>
<circle cx="467.0" cy="89.4" r="1.8" fill="#a6cee3"/>
<circle cx="470.0" cy="93.2" r="1.8" fill="#a6cee3"/>
<circle cx="509.1" cy="50.2" r="1.8" fill="#a6cee3"/>
<circle cx="594.0" cy="72.4" r="1.8" fill="#a6cee3"/>
<circle cx="589.9" cy="75.9" r="1.8" fill="#a6cee3"/>
<circle cx="589.2" cy="68.9" r="1.8" fill="#a6cee3"/>
<circle cx="621.4" cy="227.4" r="1.8" fill="#a6cee3"/>
<circle cx="493.1" cy="102.1" r="1.8" fill="#a6cee3"/>
<circle cx="528.2" cy="78.5" r="1.8" fill="#a6cee3"/>
<circle cx="527.9" cy="73.2" r="1.8" fill="#a6cee3"/>
<circle cx="526.5" cy="69.0" r="1.8" fill="#a6cee3"/>
<circle cx="650.0" cy="172.9" r="1.8" fill="#a6cee3"/>
<circle cx="652.5" cy="169.6" r="1.8" fill="#a6cee3"/>
<circle cx="655.6" cy="166.0" r="1.8" fill="#a6cee3"/>
<circle cx="660.8" cy="165.6" r="1.8" fill="#a6cee3"/>
<circle cx="664.5" cy="168.9" r="1.8" fill="#a6cee3"/>
<circle cx="544.6" cy="49.1" r="1.8" fill="#a6cee3"/>
<circle cx="671.3" cy="197.1" r="1.8" fill="#a6cee3"/>
<circle cx="666.2" cy="197.3" r="1.8" fill="#a6cee3"/>
<circle cx="517.0" cy="192.7" r="1.8" fill="#a6cee3"/>
<circle cx="512.5" cy="194.2" r="1.8" fill="#a6cee3"/>
<circle cx="507.4" cy="193.6" r="1.8" fill="#a6cee3"/>
<circle cx="520.4" cy="189.6" r="1.8" fill="#a6cee3"/>
<circle cx="524.0" cy="42.6" r="1.8" fill="#a6cee3"/>
<circle cx="529.1" cy="40.9" r="1.8" fill="#a6cee3"/>
<circle cx="532.2" cy="43.7" r="1.8" fill="#a6cee3"/>
<circle cx="537.1" cy="42.4" r="1.8" fill="#a6cee3"/>
<circle cx="610.7" cy="167.1" r="1.8" fill="#a6cee3"/>
<circle cx="570.7" cy="94.4" r="1.8" fill="#a6cee3"/>
<circle cx="573.6" cy="102.8" r="1.8" fill="#a6cee3"/>
<circle cx="659.1" cy="221.5" r="1.8" fill="#a6cee3"/>
<circle cx="512.3" cy="86.1" r="1.8" fill="#a6cee3"/>
<circle cx="515.7" cy="83.0" r="1.8" fill="#a6cee3"/>
<circle cx="514.2" cy="78.1" r="1.8" fill="#a6cee3"/>
<circle cx="600.7" cy="71.8" r="1.8" fill="#a6cee3"/>
<circle cx="630.2" cy="94.2" r="1.8" fill="#a6cee3"/>
<circle cx="632.1" cy="97.9" r="1.8" fill="#a6cee3"/>
<circle cx="634.5" cy="102.5" r="1.8" fill="#a6cee3"/>
<circle cx="510.8" cy="65.2" r="1.8" fill="#a6cee3"/>
<circle cx="512.3" cy="74.0" r="1.8" fill="#a6cee3"/>
<circle cx="541.5" cy="42.8" r="1.8" fill="#a6cee3"/>
<circle cx="541.1" cy="47.1" r="1.8" fill="#a6cee3"/>
<circle cx="517.0" cy="50.9" r="1.8" fill="#a6cee3"/>
<circle cx="706.8" cy="173.5" r="1.8" fill="#a6cee3"/>
<circle cx="703.7" cy="169.9" r="1.8" fill="#a6cee3"/>
<circle cx="703.4" cy="165.8" r="1.8" fill="#a6cee3"/>
<circle cx="495.6" cy="85.0" r="1.8" fill="#a6cee3"/>
<circle cx="575.1" cy="76.0" r="1.8" fill="#a6cee3"/>
<circle cx="571.7" cy="72.4" r="1.8" fill="#a6cee3"/>
<circle cx="568.1" cy="69.8" r="1.8" fill="#a6cee3"/>
<circle cx="565.3" cy="65.2" r="1.8" fill="#a6cee3"/>
<circle cx="538.0" cy="121.7" r="1.8" fill="#a6cee3"/>
<circle cx="542.8" cy="119.4" r="1.8" fill="#a6cee3"/>
<circle cx="543.1" cy="114.7" r="1.8" fill="#a6cee3"/>
<circle cx="496.2" cy="132.0" r="1.8" fill="#a6cee3"/>
<circle cx="499.0" cy="136.1" r="1.8" fill="#a6cee3"/>
<circle cx="493.3" cy="141.4" r="1.8" fill="#a6cee3"/>
<circle cx="604.1" cy="114.9" r="1.8" fill="#a6cee3"/>
<circle cx="632.7" cy="112.1" r="1.8" fill="#a6cee3"/>
<circle cx="631.6" cy="116.1" r="1.8" fill="#a6cee3"/>
<circle cx="633.8" cy="124.2" r="1.8" fill="#a6cee3"/>
<circle cx="615.4" cy="134.8" r="1.8" fill="#a6cee3"/>
<circle cx="717.7" cy="166.9" r="1.8" fill="#a6cee3"/>
<circle cx="720.6" cy="162.7" r="1.8" fill="#a6cee3"/>
<circle cx="647.5" cy="132.1" r="1.8" fill="#a6cee3"/>
<circle cx="651.6" cy="133.0" r="1.8" fill="#a6cee3"/>
<circle cx="655.6" cy="133.8" r="1.8" fill="#a6cee3"/>
<circle cx="573.6" cy="205.3" r="1.8" fill="#a6cee3"/>
<circle cx="573.3" cy="209.9" r="1.8" fill="#a6cee3"/>
<circle cx="571.3" cy="214.2" r="1.8" fill="#a6cee3"/>
<circle cx="508.1" cy="148.9" r="1.8" fill="#a6cee3"/>
<circle cx="506.8" cy="144.7" r="1.8" fill="#a6cee3"/>
<circle cx="515.5" cy="126.1" r="1.8" fill="#a6cee3"/>
<circle cx="514.0" cy="130.7" r="1.8" fill="#a6cee3"/>
<circle cx="514.5" cy="135.3" r="1.8" fill="#a6cee3"/>
<circle cx="550.7" cy="61.4" r="1.8" fill="#a6cee3"/>
<circle cx="550.8" cy="66.6" r="1.8" fill="#a6cee3"/>
<circle cx="551.8" cy="71.0" r="1.8" fill="#a6cee3"/>
<circle cx="580.2" cy="118.9" r="1.8" fill="#a6cee3"/>
<circle cx="576.0" cy="119.3" r="1.8" fill="#a6cee3"/>
<circle cx="571.7" cy="117.7" r="1.8" fill="#a6cee3"/>
<circle cx="604.3" cy="107.2" r="1.8" fill="#a6cee3"/>
<circle cx="600.6" cy="104.4" r="1.8" fill="#a6cee3"/>
<circle cx="601.2" cy="99.8" r="1.8" fill="#a6cee3"/>
<circle cx="545.8" cy="202.8" r="1.8" fill="#a6cee3"/>
<circle cx="547.5" cy="141.0" r="1.8" fill="#a6cee3"/>
<circle cx="551.5" cy="142.0" r="1.8" fill="#a6cee3"/>
<circle cx="556.7" cy="141.7" r="1.8" fill="#a6cee3"/>
<circle cx="560.8" cy="144.9" r="1.8" fill="#a6cee3"/>
<circle cx="536.2" cy="163.1" r="1.8" fill="#a6cee3"/>
<circle cx="551.2" cy="53.3" r="1.8" fill="#a6cee3"/>
<circle cx="556.0" cy="55.3" r="1.8" fill="#a6cee3"/>
<circle cx="560.0" cy="52.0" r="1.8" fill="#a6cee3"/>
<circle cx="599.5" cy="169.2" r="1.8" fill="#a6cee3"/>
<circle cx="600.6" cy="173.7" r="1.8" fill="#a6cee3"/>
<circle cx="603.1" cy="177.7" r="1.8" fill="#a6cee3"/>
<circle cx="682.0" cy="216.4" r="1.8" fill="#a6cee3"/>
<circle cx="683.7" cy="212.1" r="1.8" fill="#a6cee3"/>
<circle cx="685.3" cy="208.3" r="1.8" fill="#a6cee3"/>
<circle cx="688.0" cy="205.2" r="1.8" fill="#a6cee3"/>
<circle cx="541.8" cy="198.9" r="1.8" fill="#a6cee3"/>
<circle cx="545.1" cy="196.1" r="1.8" fill="#a6cee3"/>
<circle cx="549.4" cy="198.0" r="1.8" fill="#a6cee3"/>
<circle cx="553.4" cy="200.9" r="1.8" fill="#a6cee3"/>
<circle cx="524.1" cy="103.9" r="1.8" fill="#a6cee3"/>
<circle cx="528.9" cy="106.3" r="1.8" fill="#a6cee3"/>
<circle cx="532.9" cy="109.0" r="1.8" fill="#a6cee3"/>
<circle cx="554.3" cy="208.5" r="1.8" fill="#a6cee3"/>
<circle cx="549.2" cy="207.7" r="1.8" fill="#a6cee3"/>
<circle cx="545.0" cy="207.6" r="1.8" fill="#a6cee3"/>
<circle cx="541.6" cy="205.4" r="1.8" fill="#a6cee3"/>
<circle cx="621.4" cy="121.1" r="1.8" fill="#a6cee3"/>
<circle cx="540.7" cy="53.0" r="1.8" fill="#a6cee3"/>
<circle cx="539.6" cy="58.2" r="1.8" fill="#a6cee3"/>
<circle cx="672.4" cy="187.7" r="1.8" fill="#a6cee3"/>
<circle cx="673.4" cy="182.6" r="1.8" fill="#a6cee3"/>
<circle cx="595.4" cy="103.1" r="1.8" fill="#a6cee3"/>
<circle cx="593.9" cy="106.8" r="1.8" fill="#a6cee3"/>
<circle cx="595.3" cy="110.8" r="1.8" fill="#a6cee3"/>
<circle cx="592.9" cy="114.1" r="1.8" fill="#a6cee3"/>
<circle cx="623.7" cy="178.1" r="1.8" fill="#a6cee3"/>
<circle cx="618.7" cy="177.1" r="1.8" fill="#a6cee3"/>
<circle cx="515.8" cy="173.1" r="1.8" fill="#a6cee3"/>
<circle cx="512.3" cy="169.8" r="1.8" fill="#a6cee3"/>
<circle cx="508.1" cy="166.8" r="1.8" fill="#a6cee3"/>
<circle cx="504.7" cy="164.0" r="1.8" fill="#a6cee3"/>
<circle cx="617.1" cy="189.9" r="1.8" fill="#a6cee3"/>
<circle cx="617.0" cy="199.2" r="1.8" fill="#a6cee3"/>
<circle cx="614.3" cy="203.2" r="1.8" fill="#a6cee3"/>
<circle cx="632.6" cy="227.3" r="1.8" fill="#a6cee3"/>
<circle cx="636.8" cy="227.2" r="1.8" fill="#a6cee3"/>
<circle cx="638.9" cy="222.4" r="1.8" fill="#a6cee3"/>
<circle cx="643.5" cy="220.4" r="1.8" fill="#a6cee3"/>
<circle cx="648.1" cy="222.3" r="1.8" fill="#a6cee3"/>
<circle cx="499.4" cy="98.4" r="1.8" fill="#a6cee3"/>
<circle cx="582.5" cy="208.3" r="1.8" fill="#a6cee3"/>
<circle cx="589.0" cy="196.8" r="1.8" fill="#a6cee3"/>
<circle cx="534.7" cy="46.9" r="1.8" fill="#a6cee3"/>
<circle cx="530.2" cy="47.5" r="1.8" fill="#a6cee3"/>
<circle cx="622.9" cy="242.1" r="1.8" fill="#a6cee3"/>
<circle cx="684.5" cy="177.3" r="1.8" fill="#a6cee3"/>
<circle cx="680.2" cy="176.3" r="1.8" fill="#a6cee3"/>
<circle cx="676.1" cy="178.2" r="1.8" fill="#a6cee3"/>
<circle cx="483.8" cy="59.1" r="1.8" fill="#a6cee3"/>
<circle cx="481.7" cy="63.6" r="1.8" fill="#a6cee3"/>
<circle cx="483.8" cy="67.4" r="1.8" fill="#a6cee3"/>
<circle cx="641.1" cy="140.1" r="1.8" fill="#a6cee3"/>
<circle cx="645.7" cy="137.9" r="1.8" fill="#a6cee3"/>
<circle cx="653.2" cy="127.3" r="1.8" fill="#a6cee3"/>
<circle cx="658.0" cy="128.6" r="1.8" fill="#a6cee3"/>
<circle cx="626.1" cy="159.3" r="1.8" fill="#a6cee3"/>
<circle cx="622.9" cy="156.1" r="1.8" fill="#a6cee3"/>
<circle cx="621.0" cy="152.5" r="1.8" fill="#a6cee3"/>
<circle cx="645.2" cy="174.8" r="1.8" fill="#a6cee3"/>
<circle cx="643.5" cy="179.5" r="1.8" fill="#a6cee3"/>
<circle cx="638.4" cy="181.2" r="1.8" fill="#a6cee3"/>
<circle cx="635.4" cy="183.9" r="1.8" fill="#a6cee3"/>
<circle cx="470.9" cy="82.8" r="1.8" fill="#a6cee3"/>
<circle cx="680.4" cy="145.0" r="1.8" fill="#a6cee3"/>
<circle cx="679.5" cy="149.5" r="1.8" fill="#a6cee3"/>
<circle cx="676.5" cy="152.3" r="1.8" fill="#a6cee3"/>
<circle cx="672.3" cy="150.5" r="1.8" fill="#a6cee3"/>
<circle cx="668.8" cy="153.2" r="1.8" fill="#a6cee3"/>
<circle cx="666.3" cy="156.3" r="1.8" fill="#a6cee3"/>
<circle cx="642.5" cy="106.0" r="1.8" fill="#a6cee3"/>
<circle cx="636.8" cy="113.2" r="1.8" fill="#a6cee3"/>
<circle cx="649.0" cy="212.4" r="1.8" fill="#a6cee3"/>
<circle cx="505.8" cy="95.6" r="1.8" fill="#a6cee3"/>
<circle cx="503.6" cy="99.5" r="1.8" fill="#a6cee3"/>
<circle cx="502.6" cy="103.5" r="1.8" fill="#a6cee3"/>
<circle cx="500.9" cy="107.6" r="1.8" fill="#a6cee3"/>
<circle cx="540.1" cy="159.0" r="1.8" fill="#a6cee3"/>
<circle cx="544.5" cy="159.3" r="1.8" fill="#a6cee3"/>
<circle cx="547.1" cy="156.0" r="1.8" fill="#a6cee3"/>
<circle cx="584.3" cy="93.3" r="1.8" fill="#a6cee3"/>
<circle cx="580.9" cy="91.0" r="1.8" fill="#a6cee3"/>
<circle cx="577.9" cy="87.0" r="1.8" fill="#a6cee3"/>
<circle cx="573.1" cy="88.0" r="1.8" fill="#a6cee3"/>
<circle cx="567.9" cy="86.8" r="1.8" fill="#a6cee3"/>
<circle cx="546.2" cy="134.1" r="1.8" fill="#a6cee3"/>
<circle cx="498.0" cy="148.1" r="1.8" fill="#a6cee3"/>
<circle cx="696.8" cy="150.4" r="1.8" fill="#a6cee3"/>
<circle cx="701.6" cy="148.4" r="1.8" fill="#a6cee3"/>
<circle cx="596.9" cy="116.1" r="1.8" fill="#a6cee3"/>
<circle cx="625.8" cy="110.7" r="1.8" fill="#a6cee3"/>
<circle cx="621.6" cy="112.3" r="1.8" fill="#a6cee3"/>
<circle cx="617.4" cy="114.9" r="1.8" fill="#a6cee3"/>
<circle cx="585.3" cy="118.6" r="1.8" fill="#a6cee3"/>
<circle cx="585.1" cy="113.1" r="1.8" fill="#a6cee3"/>
<circle cx="645.0" cy="226.1" r="1.8" fill="#a6cee3"/>
<circle cx="696.2" cy="182.9" r="1.8" fill="#a6cee3"/>
<circle cx="692.7" cy="185.5" r="1.8" fill="#a6cee3"/>
<circle cx="688.1" cy="184.4" r="1.8" fill="#a6cee3"/>
<circle cx="685.1" cy="187.7" r="1.8" fill="#a6cee3"/>
<circle cx="681.3" cy="190.5" r="1.8" fill="#a6cee3"/>
<circle cx="627.0" cy="169.8" r="1.8" fill="#a6cee3"/>
<circle cx="627.3" cy="165.4" r="1.8" fill="#a6cee3"/>
<circle cx="630.1" cy="161.9" r="1.8" fill="#a6cee3"/>
<circle cx="630.8" cy="157.0" r="1.8" fill="#a6cee3"/>
<circle cx="510.7" cy="110.1" r="1.8" fill="#a6cee3"/>
<circle cx="659.7" cy="177.9" r="1.8" fill="#a6cee3"/>
<circle cx="551.6" cy="149.3" r="1.8" fill="#a6cee3"/>
<circle cx="553.9" cy="136.1" r="1.8" fill="#a6cee3"/>
<circle cx="495.8" cy="66.6" r="1.8" fill="#a6cee3"/>
<circle cx="490.7" cy="65.8" r="1.8" fill="#a6cee3"/>
<circle cx="488.3" cy="62.1" r="1.8" fill="#a6cee3"/>
<circle cx="714.5" cy="201.5" r="1.8" fill="#a6cee3"/>
<circle cx="514.8" cy="143.1" r="1.8" fill="#a6cee3"/>
<circle cx="528.4" cy="143.6" r="1.8" fill="#a6cee3"/>
<circle cx="531.6" cy="146.2" r="1.8" fill="#a6cee3"/>
<circle cx="535.9" cy="147.4" r="1.8" fill="#a6cee3"/>
<circle cx="533.5" cy="78.8" r="1.8" fill="#a6cee3"/>
<circle cx="537.5" cy="79.7" r="1.8" fill="#a6cee3"/>
<circle cx="485.1" cy="87.4" r="1.8" fill="#a6cee3"/>
<circle cx="484.2" cy="83.3" r="1.8" fill="#a6cee3"/>
<circle cx="482.6" cy="78.9" r="1.8" fill="#a6cee3"/>
<circle cx="478.2" cy="77.0" r="1.8" fill="#a6cee3"/>
<circle cx="708.3" cy="153.8" r="1.8" fill="#a6cee3"/>
<circle cx="711.1" cy="157.4" r="1.8" fill="#a6cee3"/>
<circle cx="541.7" cy="61.8" r="1.8" fill="#a6cee3"/>
<circle cx="546.3" cy="63.4" r="1.8" fill="#a6cee3"/>
<circle cx="583.7" cy="88.0" r="1.8" fill="#a6cee3"/>
<circle cx="684.2" cy="223.8" r="1.8" fill="#a6cee3"/>
<circle cx="606.7" cy="222.4" r="1.8" fill="#a6cee3"/>
<circle cx="608.3" cy="218.1" r="1.8" fill="#a6cee3"/>
<circle cx="606.9" cy="213.0" r="1.8" fill="#a6cee3"/>
<circle cx="610.3" cy="209.2" r="1.8" fill="#a6cee3"/>
<circle cx="615.2" cy="209.3" r="1.8" fill="#a6cee3"/>
<circle cx="617.6" cy="213.0" r="1.8" fill="#a6cee3"/>
<circle cx="510.6" cy="45.4" r="1.8" fill="#a6cee3"/>
<circle cx="515.8" cy="45.6" r="1.8" fill="#a6cee3"/>
<circle cx="517.8" cy="42.0" r="1.8" fill="#a6cee3"/>
<circle cx="607.2" cy="145.3" r="1.8" fill="#a6cee3"/>
<circle cx="608.6" cy="149.3" r="1.8" fill="#a6cee3"/>
<circle cx="609.9" cy="200.1" r="1.8" fill="#a6cee3"/>
<circle cx="609.4" cy="205.0" r="1.8" fill="#a6cee3"/>
<circle cx="606.1" cy="196.7" r="1.8" fill="#a6cee3"/>
<circle cx="517.8" cy="132.3" r="1.8" fill="#a6cee3"/>
<circle cx="509.0" cy="131.2" r="1.8" fill="#a6cee3"/>
<circle cx="571.7" cy="184.8" r="1.8" fill="#a6cee3"/>
<circle cx="570.8" cy="189.4" r="1.8" fill="#a6cee3"/>
<circle cx="569.3" cy="194.1" r="1.8" fill="#a6cee3"/>
<circle cx="542.3" cy="223.2" r="1.8" fill="#a6cee3"/>
<circle cx="525.7" cy="202.6" r="1.8" fill="#a6cee3"/>
<circle cx="520.9" cy="201.1" r="1.8" fill="#a6cee3"/>
<circle cx="535.2" cy="204.6" r="1.8" fill="#a6cee3"/>
<circle cx="516.8" cy="178.8" r="1.8" fill="#a6cee3"/>
<circle cx="508.9" cy="160.6" r="1.8" fill="#a6cee3"/>
<circle cx="500.8" cy="161.1" r="1.8" fill="#a6cee3"/>
<circle cx="672.9" cy="125.2" r="1.8" fill="#a6cee3"/>
<circle cx="672.9" cy="129.7" r="1.8" fill="#a6cee3"/>
<circle cx="669.1" cy="133.3" r="1.8" fill="#a6cee3"/>
<circle cx="588.8" cy="148.8" r="1.8" fill="#a6cee3"/>
<circle cx="588.3" cy="152.8" r="1.8" fill="#a6cee3"/>
<circle cx="591.7" cy="155.5" r="1.8" fill="#a6cee3"/>
<circle cx="596.0" cy="157.6" r="1.8" fill="#a6cee3"/>
<circle cx="474.9" cy="70.8" r="1.8" fill="#a6cee3"/>
<circle cx="681.6" cy="137.8" r="1.8" fill="#a6cee3"/>
<circle cx="686.1" cy="136.7" r="1.8" fill="#a6cee3"/>
<circle cx="688.3" cy="132.8" r="1.8" fill="#a6cee3"/>
<circle cx="528.3" cy="218.7" r="1.8" fill="#a6cee3"/>
<circle cx="508.8" cy="175.5" r="1.8" fill="#a6cee3"/>
<circle cx="509.1" cy="88.4" r="1.8" fill="#a6cee3"/>
<circle cx="541.5" cy="188.1" r="1.8" fill="#a6cee3"/>
<circle cx="554.8" cy="108.5" r="1.8" fill="#a6cee3"/>
<circle cx="550.6" cy="111.8" r="1.8" fill="#a6cee3"/>
<circle cx="547.1" cy="115.9" r="1.8" fill="#a6cee3"/>
<circle cx="500.8" cy="55.1" r="1.8" fill="#a6cee3"/>
<circle cx="618.7" cy="161.3" r="1.8" fill="#a6cee3"/>
<circle cx="618.4" cy="166.4" r="1.8" fill="#a6cee3"/>
<circle cx="605.1" cy="87.7" r="1.8" fill="#a6cee3"/>
<circle cx="610.3" cy="87.7" r="1.8" fill="#a6cee3"/>
<circle cx="712.4" cy="205.9" r="1.8" fill="#a6cee3"/>
<circle cx="520.2" cy="31.8" r="1.8" fill="#a6cee3"/>
<circle cx="683.4" cy="156.1" r="1.8" fill="#a6cee3"/>
<circle cx="688.3" cy="155.9" r="1.8" fill="#a6cee3"/>
<circle cx="690.4" cy="164.3" r="1.8" fill="#a6cee3"/>
<circle cx="568.3" cy="103.3" r="1.8" fill="#a6cee3"/>
<circle cx="564.5" cy="101.3" r="1.8" fill="#a6cee3"/>
<circle cx="561.2" cy="97.2" r="1.8" fill="#a6cee3"/>
<circle cx="561.2" cy="92.4" r="1.8" fill="#a6cee3"/>
<circle cx="557.4" cy="88.5" r="1.8" fill="#a6cee3"/>
<circle cx="557.6" cy="83.7" r="1.8" fill="#a6cee3"/>
<circle cx="491.5" cy="114.3" r="1.8" fill="#a6cee3"/>
<circle cx="496.5" cy="114.7" r="1.8" fill="#a6cee3"/>
<circle cx="642.7" cy="156.7" r="1.8" fill="#a6cee3"/>
<circle cx="573.7" cy="201.2" r="1.8" fill="#a6cee3"/>
<circle cx="586.5" cy="204.5" r="1.8" fill="#a6cee3"/>
<circle cx="589.6" cy="208.4" r="1.8" fill="#a6cee3"/>
<circle cx="593.8" cy="209.6" r="1.8" fill="#a6cee3"/>
<circle cx="664.6" cy="218.1" r="1.8" fill="#a6cee3"/>
<circle cx="669.8" cy="217.2" r="1.8" fill="#a6cee3"/>
<circle cx="622.2" cy="125.0" r="1.8" fill="#a6cee3"/>
<circle cx="677.7" cy="187.3" r="1.8" fill="#a6cee3"/>
<circle cx="588.3" cy="57.9" r="1.8" fill="#a6cee3"/>
<circle cx="567.2" cy="178.2" r="1.8" fill="#a6cee3"/>
<circle cx="589.9" cy="123.5" r="1.8" fill="#a6cee3"/>
<circle cx="592.7" cy="127.5" r="1.8" fill="#a6cee3"/>
<circle cx="579.4" cy="173.9" r="1.8" fill="#a6cee3"/>
<circle cx="574.8" cy="171.3" r="1.8" fill="#a6cee3"/>
<circle cx="569.8" cy="172.1" r="1.8" fill="#a6cee3"/>
<circle cx="565.7" cy="170.8" r="1.8" fill="#a6cee3"/>
<circle cx="509.7" cy="126.5" r="1.8" fill="#a6cee3"/>
<circle cx="509.6" cy="135.6" r="1.8" fill="#a6cee3"/>
<circle cx="593.9" cy="82.9" r="1.8" fill="#a6cee3"/>
<circle cx="593.5" cy="91.9" r="1.8" fill="#a6cee3"/>
<circle cx="603.3" cy="203.2" r="1.8" fill="#a6cee3"/>
<circle cx="498.5" cy="51.4" r="1.8" fill="#a6cee3"/>
<circle cx="494.9" cy="59.7" r="1.8" fill="#a6cee3"/>
<circle cx="718.8" cy="194.5" r="1.8" fill="#a6cee3"/>
<circle cx="608.0" cy="101.8" r="1.8" fill="#a6cee3"/>
<circle cx="612.3" cy="99.3" r="1.8" fill="#a6cee3"/>
<circle cx="616.5" cy="99.4" r="1.8" fill="#a6cee3"/>
<circle cx="620.4" cy="98.4" r="1.8" fill="#a6cee3"/>
<circle cx="623.2" cy="102.1" r="1.8" fill="#a6cee3"/>
<circle cx="625.3" cy="106.4" r="1.8" fill="#a6cee3"/>
<circle cx="563.6" cy="156.5" r="1.8" fill="#a6cee3"/>
<circle cx="557.9" cy="150.2" r="1.8" fill="#a6cee3"/>
<circle cx="647.6" cy="101.9" r="1.8" fill="#a6cee3"/>
<circle cx="647.5" cy="120.7" r="1.8" fill="#a6cee3"/>
<circle cx="516.4" cy="116.4" r="1.8" fill="#a6cee3"/>
<circle cx="534.8" cy="197.3" r="1.8" fill="#a6cee3"/>
<circle cx="534.1" cy="193.1" r="1.8" fill="#a6cee3"/>
<circle cx="537.5" cy="189.2" r="1.8" fill="#a6cee3"/>
<circle cx="536.1" cy="184.5" r="1.8" fill="#a6cee3"/>
<circle cx="538.2" cy="179.4" r="1.8" fill="#a6cee3"/>
<circle cx="531.9" cy="175.4" r="1.8" fill="#a6cee3"/>
<circle cx="530.5" cy="171.2" r="1.8" fill="#a6cee3"/>
<circle cx="526.4" cy="170.0" r="1.8" fill="#a6cee3"/>
<circle cx="522.1" cy="172.8" r="1.8" fill="#a6cee3"/>
<circle cx="522.1" cy="178.0" r="1.8" fill="#a6cee3"/>
<circle cx="610.7" cy="152.6" r="1.8" fill="#a6cee3"/>
<circle cx="611.8" cy="106.6" r="1.8" fill="#a6cee3"/>
<circle cx="617.0" cy="105.0" r="1.8" fill="#a6cee3"/>
<circle cx="594.7" cy="150.2" r="1.8" fill="#a6cee3"/>
<circle cx="599.1" cy="151.3" r="1.8" fill="#a6cee3"/>
<circle cx="714.0" cy="169.2" r="1.8" fill="#a6cee3"/>
<circle cx="717.6" cy="171.8" r="1.8" fill="#a6cee3"/>
<circle cx="479.6" cy="94.0" r="1.8" fill="#a6cee3"/>
<circle cx="638.0" cy="162.4" r="1.8" fill="#a6cee3"/>
<circle cx="504.9" cy="41.6" r="1.8" fill="#a6cee3"/>
<circle cx="517.9" cy="122.1" r="1.8" fill="#a6cee3"/>
<circle cx="522.0" cy="120.1" r="1.8" fill="#a6cee3"/>
<circle cx="525.4" cy="117.5" r="1.8" fill="#a6cee3"/>
<circle cx="528.8" cy="119.6" r="1.8" fill="#a6cee3"/>
<circle cx="532.6" cy="123.4" r="1.8" fill="#a6cee3"/>
<circle cx="549.3" cy="80.4" r="1.8" fill="#a6cee3"/>
<circle cx="552.0" cy="83.4" r="1.8" fill="#a6cee3"/>
<circle cx="602.0" cy="182.5" r="1.8" fill="#a6cee3"/>
<circle cx="597.3" cy="183.0" r="1.8" fill="#a6cee3"/>
<circle cx="592.7" cy="181.7" r="1.8" fill="#a6cee3"/>
<circle cx="587.9" cy="182.3" r="1.8" fill="#a6cee3"/>
<circle cx="545.6" cy="72.1" r="1.8" fill="#a6cee3"/>
<circle cx="549.5" cy="75.5" r="1.8" fill="#a6cee3"/>
<circle cx="553.6" cy="78.4" r="1.8" fill="#a6cee3"/>
<circle cx="550.6" cy="216.4" r="1.8" fill="#a6cee3"/>
<circle cx="546.0" cy="216.7" r="1.8" fill="#a6cee3"/>
<circle cx="543.6" cy="141.4" r="1.8" fill="#a6cee3"/>
<circle cx="541.4" cy="138.0" r="1.8" fill="#a6cee3"/>
<circle cx="537.0" cy="136.0" r="1.8" fill="#a6cee3"/>
<circle cx="521.3" cy="113.5" r="1.8" fill="#a6cee3"/>
<circle cx="522.3" cy="109.0" r="1.8" fill="#a6cee3"/>
<circle cx="646.4" cy="110.6" r="1.8" fill="#a6cee3"/>
<circle cx="601.4" cy="206.7" r="1.8" fill="#a6cee3"/>
<circle cx="569.8" cy="219.2" r="1.8" fill="#a6cee3"/>
<circle cx="568.9" cy="224.0" r="1.8" fill="#a6cee3"/>
<circle cx="563.7" cy="224.9" r="1.8" fill="#a6cee3"/>
<circle cx="526.0" cy="153.2" r="1.8" fill="#a6cee3"/>
<circle cx="539.1" cy="130.0" r="1.8" fill="#a6cee3"/>
<circle cx="563.0" cy="71.3" r="1.8" fill="#a6cee3"/>
<circle cx="559.9" cy="74.2" r="1.8" fill="#a6cee3"/>
<circle cx="555.8" cy="73.8" r="1.8" fill="#a6cee3"/>
<circle cx="657.1" cy="209.4" r="1.8" fill="#a6cee3"/>
<circle cx="655.6" cy="213.5" r="1.8" fill="#a6cee3"/>
<circle cx="658.0" cy="216.9" r="1.8" fill="#a6cee3"/>
<circle cx="560.3" cy="176.5" r="1.8" fill="#a6cee3"/>
<circle cx="556.4" cy="175.2" r="1.8" fill="#a6cee3"/>
<circle cx="553.6" cy="172.2" r="1.8" fill="#a6cee3"/>
<circle cx="553.8" cy="167.8" r="1.8" fill="#a6cee3"/>
<circle cx="551.1" cy="163.8" r="1.8" fill="#a6cee3"/>
<circle cx="534.1" cy="218.5" r="1.8" fill="#a6cee3"/>
<circle cx="580.6" cy="223.7" r="1.8" fill="#a6cee3"/>
<circle cx="582.5" cy="228.5" r="1.8" fill="#a6cee3"/>
<circle cx="612.4" cy="91.0" r="1.8" fill="#a6cee3"/>
<circle cx="588.8" cy="213.4" r="1.8" fill="#a6cee3"/>
<circle cx="559.5" cy="118.6" r="1.8" fill="#a6cee3"/>
<circle cx="561.9" cy="122.1" r="1.8" fill="#a6cee3"/>
<circle cx="561.4" cy="127.2" r="1.8" fill="#a6cee3"/>
<circle cx="657.9" cy="171.4" r="1.8" fill="#a6cee3"/>
<circle cx="702.4" cy="196.3" r="1.8" fill="#a6cee3"/>
<circle cx="507.3" cy="70.5" r="1.8" fill="#a6cee3"/>
<circle cx="561.4" cy="164.1" r="1.8" fill="#a6cee3"/>
<circle cx="557.9" cy="167.1" r="1.8" fill="#a6cee3"/>
<circle cx="712.0" cy="211.0" r="1.8" fill="#a6cee3"/>
<circle cx="707.0" cy="204.2" r="1.8" fill="#a6cee3"/>
<circle cx="702.8" cy="202.4" r="1.8" fill="#a6cee3"/>
<circle cx="698.0" cy="202.6" r="1.8" fill="#a6cee3"/>
<circle cx="694.9" cy="206.4" r="1.8" fill="#a6cee3"/>
<circle cx="708.7" cy="165.5" r="1.8" fill="#a6cee3"/>
<circle cx="708.6" cy="161.0" r="1.8" fill="#a6cee3"/>
<circle cx="687.9" cy="221.4" r="1.8" fill="#a6cee3"/>
<circle cx="692.2" cy="224.4" r="1.8" fill="#a6cee3"/>
<circle cx="637.8" cy="237.6" r="1.8" fill="#a6cee3"/>
<circle cx="557.1" cy="157.0" r="1.8" fill="#a6cee3"/>
<circle cx="558.1" cy="162.0" r="1.8" fill="#a6cee3"/>
<circle cx="679.2" cy="169.8" r="1.8" fill="#a6cee3"/>
<circle cx="684.0" cy="168.0" r="1.8" fill="#a6cee3"/>
<circle cx="480.2" cy="88.3" r="1.8" fill="#a6cee3"/>
<circle cx="477.4" cy="85.4" r="1.8" fill="#a6cee3"/>
<circle cx="471.5" cy="78.4" r="1.8" fill="#a6cee3"/>
<circle cx="607.5" cy="189.0" r="1.8" fill="#a6cee3"/>
<circle cx="612.0" cy="189.9" r="1.8" fill="#a6cee3"/>
<circle cx="615.3" cy="186.1" r="1.8" fill="#a6cee3"/>
<circle cx="558.0" cy="134.2" r="1.8" fill="#a6cee3"/>
<circle cx="635.9" cy="157.8" r="1.8" fill="#a6cee3"/>
<circle cx="639.4" cy="154.1" r="1.8" fill="#a6cee3"/>
<circle cx="643.4" cy="163.9" r="1.8" fill="#a6cee3"/>
<circle cx="646.8" cy="202.7" r="1.8" fill="#a6cee3"/>
<circle cx="538.2" cy="153.7" r="1.8" fill="#a6cee3"/>
<circle cx="541.7" cy="150.9" r="1.8" fill="#a6cee3"/>
<circle cx="607.6" cy="120.2" r="1.8" fill="#a6cee3"/>
<circle cx="610.7" cy="122.9" r="1.8" fill="#a6cee3"/>
<circle cx="601.2" cy="213.9" r="1.8" fill="#a6cee3"/>
<circle cx="467.1" cy="97.0" r="1.8" fill="#a6cee3"/>
<circle cx="598.8" cy="134.5" r="1.8" fill="#a6cee3"/>
<circle cx="627.0" cy="202.3" r="1.8" fill="#a6cee3"/>
<circle cx="630.4" cy="206.5" r="1.8" fill="#a6cee3"/>
<circle cx="626.2" cy="118.8" r="1.8" fill="#a6cee3"/>
<circle cx="629.3" cy="123.2" r="1.8" fill="#a6cee3"/>
<circle cx="630.2" cy="128.6" r="1.8" fill="#a6cee3"/>
<circle cx="634.1" cy="130.4" r="1.8" fill="#a6cee3"/>
<circle cx="640.3" cy="196.6" r="1.8" fill="#a6cee3"/>
<circle cx="651.6" cy="148.2" r="1.8" fill="#a6cee3"/>
<circle cx="656.3" cy="148.0" r="1.8" fill="#a6cee3"/>
<circle cx="520.4" cy="206.9" r="1.8" fill="#a6cee3"/>
<circle cx="691.6" cy="218.8" r="1.8" fill="#a6cee3"/>
<circle cx="686.6" cy="217.2" r="1.8" fill="#a6cee3"/>
<circle cx="607.1" cy="174.5" r="1.8" fill="#a6cee3"/>
<circle cx="525.8" cy="86.7" r="1.8" fill="#a6cee3"/>
<circle cx="517.7" cy="86.5" r="1.8" fill="#a6cee3"/>
<circle cx="473.1" cy="112.0" r="1.8" fill="#a6cee3"/>
<circle cx="586.8" cy="141.0" r="1.8" fill="#a6cee3"/>
<circle cx="622.9" cy="202.2" r="1.8" fill="#a6cee3"/>
<circle cx="533.3" cy="118.6" r="1.8" fill="#a6cee3"/>
<circle cx="675.4" cy="164.5" r="1.8" fill="#a6cee3"/>
<circle cx="679.5" cy="165.5" r="1.8" fill="#a6cee3"/>
<circle cx="688.8" cy="175.2" r="1.8" fill="#a6cee3"/>
<circle cx="593.5" cy="220.2" r="1.8" fill="#a6cee3"/>
<circle cx="589.0" cy="221.8" r="1.8" fill="#a6cee3"/>
<circle cx="583.9" cy="158.4" r="1.8" fill="#a6cee3"/>
<circle cx="582.3" cy="163.0" r="1.8" fill="#a6cee3"/>
<circle cx="651.4" cy="165.5" r="1.8" fill="#a6cee3"/>
<circle cx="648.9" cy="156.7" r="1.8" fill="#a6cee3"/>
<circle cx="653.2" cy="107.7" r="1.8" fill="#a6cee3"/>
<circle cx="661.2" cy="106.6" r="1.8" fill="#a6cee3"/>
<circle cx="527.9" cy="148.7" r="1.8" fill="#a6cee3"/>
<circle cx="610.8" cy="70.6" r="1.8" fill="#a6cee3"/>
<circle cx="608.1" cy="67.5" r="1.8" fill="#a6cee3"/>
<circle cx="604.1" cy="68.8" r="1.8" fill="#a6cee3"/>
<circle cx="483.1" cy="102.1" r="1.8" fill="#a6cee3"/>
<circle cx="479.1" cy="105.6" r="1.8" fill="#a6cee3"/>
<circle cx="477.2" cy="114.8" r="1.8" fill="#a6cee3"/>
<circle cx="515.7" cy="34.4" r="1.8" fill="#a6cee3"/>
<circle cx="651.5" cy="219.3" r="1.8" fill="#a6cee3"/>
<circle cx="667.7" cy="190.2" r="1.8" fill="#a6cee3"/>
<circle cx="656.1" cy="188.9" r="1.8" fill="#a6cee3"/>
<circle cx="651.9" cy="188.2" r="1.8" fill="#a6cee3"/>
<circle cx="647.3" cy="189.4" r="1.8" fill="#a6cee3"/>
<circle cx="710.9" cy="171.5" r="1.8" fill="#a6cee3"/>
<circle cx="703.3" cy="177.3" r="1.8" fill="#a6cee3"/>
<circle cx="699.3" cy="177.9" r="1.8" fill="#a6cee3"/>
<circle cx="694.2" cy="176.6" r="1.8" fill="#a6cee3"/>
<circle cx="593.7" cy="186.0" r="1.8" fill="#a6cee3"/>
<circle cx="598.7" cy="187.5" r="1.8" fill="#a6cee3"/>
<circle cx="603.1" cy="187.9" r="1.8" fill="#a6cee3"/>
<circle cx="610.1" cy="186.1" r="1.8" fill="#a6cee3"/>
<circle cx="483.7" cy="95.6" r="1.8" fill="#a6cee3"/>
<circle cx="475.0" cy="94.6" r="1.8" fill="#a6cee3"/>
<circle cx="712.1" cy="196.2" r="1.8" fill="#a6cee3"/>
<circle cx="573.9" cy="197.2" r="1.8" fill="#a6cee3"/>
<circle cx="625.6" cy="96.6" r="1.8" fill="#a6cee3"/>
<circle cx="686.5" cy="150.4" r="1.8" fill="#a6cee3"/>
<circle cx="493.3" cy="91.9" r="1.8" fill="#a6cee3"/>
<circle cx="494.4" cy="96.7" r="1.8" fill="#a6cee3"/>
<circle cx="460.8" cy="116.4" r="1.8" fill="#a6cee3"/>
<circle cx="641.5" cy="208.5" r="1.8" fill="#a6cee3"/>
<circle cx="680.5" cy="183.6" r="1.8" fill="#a6cee3"/>
<circle cx="676.3" cy="195.2" r="1.8" fill="#a6cee3"/>
<circle cx="474.3" cy="75.2" r="1.8" fill="#a6cee3"/>
<circle cx="669.4" cy="160.7" r="1.8" fill="#a6cee3"/>
<circle cx="661.9" cy="149.3" r="1.8" fill="#a6cee3"/>
<circle cx="625.4" cy="134.7" r="1.8" fill="#a6cee3"/>
<circle cx="613.8" cy="140.9" r="1.8" fill="#a6cee3"/>
<circle cx="477.7" cy="100.6" r="1.8" fill="#a6cee3"/>
<circle cx="472.3" cy="100.3" r="1.8" fill="#a6cee3"/>
<circle cx="451.3" cy="100.4" r="1.8" fill="#a6cee3"/>
<circle cx="455.6" cy="99.9" r="1.8" fill="#a6cee3"/>
<circle cx="631.5" cy="142.6" r="1.8" fill="#a6cee3"/>
<circle cx="667.9" cy="143.4" r="1.8" fill="#a6cee3"/>
<circle cx="663.1" cy="144.1" r="1.8" fill="#a6cee3"/>
<circle cx="658.9" cy="142.2" r="1.8" fill="#a6cee3"/>
<circle cx="540.3" cy="111.3" r="1.8" fill="#a6cee3"/>
<circle cx="527.1" cy="159.8" r="1.8" fill="#a6cee3"/>
<circle cx="569.5" cy="114.1" r="1.8" fill="#a6cee3"/>
<circle cx="566.1" cy="122.8" r="1.8" fill="#a6cee3"/>
<circle cx="674.5" cy="199.5" r="1.8" fill="#a6cee3"/>
<circle cx="664.3" cy="204.5" r="1.8" fill="#a6cee3"/>
<circle cx="463.3" cy="91.9" r="1.8" fill="#a6cee3"/>
<circle cx="633.5" cy="196.5" r="1.8" fill="#a6cee3"/>
<circle cx="629.6" cy="199.3" r="1.8" fill="#a6cee3"/>
<circle cx="472.2" cy="86.9" r="1.8" fill="#a6cee3"/>
<circle cx="611.0" cy="214.6" r="1.8" fill="#a6cee3"/>
<circle cx="613.7" cy="218.0" r="1.8" fill="#a6cee3"/>
<circle cx="617.7" cy="218.9" r="1.8" fill="#a6cee3"/>
<circle cx="518.4" cy="59.0" r="1.8" fill="#a6cee3"/>
<circle cx="602.5" cy="119.9" r="1.8" fill="#a6cee3"/>
<circle cx="483.0" cy="91.4" r="1.8" fill="#a6cee3"/>
<circle cx="591.6" cy="201.7" r="1.8" fill="#a6cee3"/>
<circle cx="537.1" cy="86.2" r="1.8" fill="#a6cee3"/>
<circle cx="542.4" cy="86.4" r="1.8" fill="#a6cee3"/>
<circle cx="536.3" cy="175.6" r="1.8" fill="#a6cee3"/>
<circle cx="648.7" cy="206.6" r="1.8" fill="#a6cee3"/>
<circle cx="652.6" cy="207.7" r="1.8" fill="#a6cee3"/>
<circle cx="525.0" cy="52.3" r="1.8" fill="#a6cee3"/>
<circle cx="526.0" cy="48.1" r="1.8" fill="#a6cee3"/>
<circle cx="537.7" cy="114.9" r="1.8" fill="#a6cee3"/>
<circle cx="532.8" cy="113.3" r="1.8" fill="#a6cee3"/>
<circle cx="646.7" cy="106.0" r="1.8" fill="#a6cee3"/>
<circle cx="608.0" cy="156.7" r="1.8" fill="#a6cee3"/>
<circle cx="605.3" cy="161.3" r="1.8" fill="#a6cee3"/>
<circle cx="545.1" cy="77.2" r="1.8" fill="#a6cee3"/>
<circle cx="454.7" cy="110.5" r="1.8" fill="#a6cee3"/>
<circle cx="449.4" cy="110.3" r="1.8" fill="#a6cee3"/>
<circle cx="543.8" cy="102.2" r="1.8" fill="#a6cee3"/>
<circle cx="547.6" cy="106.0" r="1.8" fill="#a6cee3"/>
<circle cx="548.7" cy="193.7" r="1.8" fill="#a6cee3"/>
<circle cx="585.5" cy="186.5" r="1.8" fill="#a6cee3"/>
<circle cx="583.8" cy="191.3" r="1.8" fill="#a6cee3"/>
<circle cx="580.6" cy="193.9" r="1.8" fill="#a6cee3"/>
<circle cx="698.9" cy="212.9" r="1.8" fill="#a6cee3"/>
<circle cx="567.5" cy="206.9" r="1.8" fill="#a6cee3"/>
<circle cx="565.3" cy="211.5" r="1.8" fill="#a6cee3"/>
<circle cx="560.8" cy="214.2" r="1.8" fill="#a6cee3"/>
<circle cx="558.0" cy="217.6" r="1.8" fill="#a6cee3"/>
<circle cx="605.6" cy="232.2" r="1.8" fill="#a6cee3"/>
<circle cx="602.5" cy="228.9" r="1.8" fill="#a6cee3"/>
<circle cx="600.1" cy="225.2" r="1.8" fill="#a6cee3"/>
<circle cx="597.5" cy="222.2" r="1.8" fill="#a6cee3"/>
<circle cx="567.3" cy="97.6" r="1.8" fill="#a6cee3"/>
<circle cx="698.0" cy="173.6" r="1.8" fill="#a6cee3"/>
<circle cx="599.7" cy="193.6" r="1.8" fill="#a6cee3"/>
<circle cx="579.9" cy="128.9" r="1.8" fill="#a6cee3"/>
<circle cx="577.4" cy="132.4" r="1.8" fill="#a6cee3"/>
<circle cx="572.1" cy="131.6" r="1.8" fill="#a6cee3"/>
<circle cx="571.0" cy="127.0" r="1.8" fill="#a6cee3"/>
<circle cx="525.9" cy="112.8" r="1.8" fill="#a6cee3"/>
<circle cx="641.0" cy="100.0" r="1.8" fill="#a6cee3"/>
<circle cx="579.3" cy="188.8" r="1.8" fill="#a6cee3"/>
<circle cx="583.5" cy="179.8" r="1.8" fill="#a6cee3"/>
<circle cx="624.8" cy="217.1" r="1.8" fill="#a6cee3"/>
<circle cx="613.3" cy="223.6" r="1.8" fill="#a6cee3"/>
<circle cx="523.9" cy="157.1" r="1.8" fill="#a6cee3"/>
<circle cx="519.5" cy="156.9" r="1.8" fill="#a6cee3"/>
<circle cx="515.7" cy="155.3" r="1.8" fill="#a6cee3"/>
<circle cx="513.7" cy="151.0" r="1.8" fill="#a6cee3"/>
<circle cx="682.4" cy="161.4" r="1.8" fill="#a6cee3"/>
<circle cx="628.3" cy="183.1" r="1.8" fill="#a6cee3"/>
<circle cx="632.7" cy="180.6" r="1.8" fill="#a6cee3"/>
<circle cx="634.3" cy="175.8" r="1.8" fill="#a6cee3"/>
<circle cx="514.1" cy="181.8" r="1.8" fill="#a6cee3"/>
<circle cx="509.0" cy="183.4" r="1.8" fill="#a6cee3"/>
<circle cx="505.9" cy="187.4" r="1.8" fill="#a6cee3"/>
<circle cx="516.4" cy="196.8" r="1.8" fill="#a6cee3"/>
<circle cx="574.7" cy="220.5" r="1.8" fill="#a6cee3"/>
<circle cx="562.6" cy="108.4" r="1.8" fill="#a6cee3"/>
<circle cx="559.0" cy="106.0" r="1.8" fill="#a6cee3"/>
<circle cx="555.8" cy="102.5" r="1.8" fill="#a6cee3"/>
<circle cx="551.7" cy="99.6" r="1.8" fill="#a6cee3"/>
<circle cx="502.1" cy="90.9" r="1.8" fill="#a6cee3"/>
<circle cx="662.7" cy="153.5" r="1.8" fill="#a6cee3"/>
<circle cx="592.5" cy="99.4" r="1.8" fill="#a6cee3"/>
<circle cx="607.3" cy="112.1" r="1.8" fill="#a6cee3"/>
<circle cx="573.4" cy="152.0" r="1.8" fill="#a6cee3"/>
<circle cx="537.3" cy="72.9" r="1.8" fill="#a6cee3"/>
<circle cx="528.3" cy="97.3" r="1.8" fill="#a6cee3"/>
<circle cx="527.5" cy="93.2" r="1.8" fill="#a6cee3"/>
<circle cx="691.9" cy="214.2" r="1.8" fill="#a6cee3"/>
<circle cx="555.9" cy="62.8" r="1.8" fill="#a6cee3"/>
<circle cx="565.8" cy="76.7" r="1.8" fill="#a6cee3"/>
<circle cx="464.0" cy="80.5" r="1.8" fill="#a6cee3"/>
<circle cx="471.9" cy="129.9" r="1.8" fill="#a6cee3"/>
<circle cx="684.5" cy="181.9" r="1.8" fill="#a6cee3"/>
<circle cx="531.8" cy="212.4" r="1.8" fill="#a6cee3"/>
<circle cx="527.4" cy="210.6" r="1.8" fill="#a6cee3"/>
<circle cx="523.7" cy="214.0" r="1.8" fill="#a6cee3"/>
<circle cx="500.1" cy="46.3" r="1.8" fill="#a6cee3"/>
<circle cx="599.6" cy="198.8" r="1.8" fill="#a6cee3"/>
<circle cx="531.4" cy="99.9" r="1.8" fill="#a6cee3"/>
<circle cx="531.8" cy="95.4" r="1.8" fill="#a6cee3"/>
<circle cx="530.8" cy="90.7" r="1.8" fill="#a6cee3"/>
<circle cx="663.6" cy="116.1" r="1.8" fill="#a6cee3"/>
<circle cx="535.7" cy="98.8" r="1.8" fill="#a6cee3"/>
<circle cx="537.2" cy="103.7" r="1.8" fill="#a6cee3"/>
<circle cx="537.0" cy="108.1" r="1.8" fill="#a6cee3"/>
<circle cx="582.8" cy="124.8" r="1.8" fill="#a6cee3"/>
<circle cx="579.2" cy="123.1" r="1.8" fill="#a6cee3"/>
<circle cx="511.8" cy="81.8" r="1.8" fill="#a6cee3"/>
<circle cx="533.8" cy="51.3" r="1.8" fill="#a6cee3"/>
<circle cx="535.4" cy="55.8" r="1.8" fill="#a6cee3"/>
<circle cx="539.9" cy="67.7" r="1.8" fill="#a6cee3"/>
<circle cx="539.4" cy="212.5" r="1.8" fill="#a6cee3"/>
<circle cx="644.2" cy="192.3" r="1.8" fill="#a6cee3"/>
<circle cx="612.8" cy="147.1" r="1.8" fill="#a6cee3"/>
<circle cx="624.8" cy="145.3" r="1.8" fill="#a6cee3"/>
<circle cx="641.4" cy="133.1" r="1.8" fill="#a6cee3"/>
<circle cx="641.1" cy="127.7" r="1.8" fill="#a6cee3"/>
<circle cx="548.5" cy="44.8" r="1.8" fill="#a6cee3"/>
<circle cx="472.5" cy="117.5" r="1.8" fill="#a6cee3"/>
<circle cx="458.7" cy="105.6" r="1.8" fill="#a6cee3"/>
<circle cx="628.0" cy="175.9" r="1.8" fill="#a6cee3"/>
<circle cx="569.1" cy="158.4" r="1.8" fill="#a6cee3"/>
<circle cx="572.2" cy="161.8" r="1.8" fill="#a6cee3"/>
<circle cx="577.4" cy="163.1" r="1.8" fill="#a6cee3"/>
<circle cx="585.1" cy="218.9" r="1.8" fill="#a6cee3"/>
<circle cx="671.4" cy="170.0" r="1.8" fill="#a6cee3"/>
<circle cx="500.0" cy="65.7" r="1.8" fill="#a6cee3"/>
<circle cx="504.0" cy="68.0" r="1.8" fill="#a6cee3"/>
<circle cx="509.7" cy="61.0" r="1.8" fill="#a6cee3"/>
<circle cx="626.4" cy="226.2" r="1.8" fill="#a6cee3"/>
<circle cx="631.0" cy="223.1" r="1.8" fill="#a6cee3"/>
<circle cx="633.0" cy="218.2" r="1.8" fill="#a6cee3"/>
<circle cx="630.4" cy="213.9" r="1.8" fill="#a6cee3"/>
<circle cx="626.3" cy="210.5" r="1.8" fill="#a6cee3"/>
<circle cx="629.7" cy="103.1" r="1.8" fill="#a6cee3"/>
<circle cx="569.0" cy="62.8" r="1.8" fill="#a6cee3"/>
<circle cx="530.4" cy="62.4" r="1.8" fill="#a6cee3"/>
<circle cx="678.7" cy="204.3" r="1.8" fill="#a6cee3"/>
<circle cx="687.9" cy="191.6" r="1.8" fill="#a6cee3"/>
<circle cx="602.4" cy="147.7" r="1.8" fill="#a6cee3"/>
<circle cx="608.1" cy="140.6" r="1.8" fill="#a6cee3"/>
<circle cx="703.6" cy="217.8" r="1.8" fill="#a6cee3"/>
<circle cx="695.5" cy="198.5" r="1.8" fill="#a6cee3"/>
<circle cx="531.9" cy="86.5" r="1.8" fill="#a6cee3"/>
<circle cx="720.4" cy="155.6" r="1.8" fill="#a6cee3"/>
<circle cx="653.8" cy="156.8" r="1.8" fill="#a6cee3"/>
<circle cx="657.7" cy="154.8" r="1.8" fill="#a6cee3"/>
<circle cx="619.6" cy="77.3" r="1.8" fill="#a6cee3"/>
<circle cx="621.7" cy="81.8" r="1.8" fill="#a6cee3"/>
<circle cx="654.1" cy="138.4" r="1.8" fill="#a6cee3"/>
<circle cx="597.0" cy="68.6" r="1.8" fill="#a6cee3"/>
<circle cx="593.3" cy="66.3" r="1.8" fill="#a6cee3"/>
<circle cx="498.8" cy="122.0" r="1.8" fill="#a6cee3"/>
<circle cx="497.4" cy="126.1" r="1.8" fill="#a6cee3"/>
<circle cx="499.7" cy="129.9" r="1.8" fill="#a6cee3"/>
<circle cx="594.4" cy="95.9" r="1.8" fill="#a6cee3"/>
<circle cx="591.4" cy="103.2" r="1.8" fill="#a6cee3"/>
<circle cx="589.6" cy="107.4" r="1.8" fill="#a6cee3"/>
<circle cx="568.6" cy="164.2" r="1.8" fill="#a6cee3"/>
<circle cx="582.4" cy="167.5" r="1.8" fill="#a6cee3"/>
<circle cx="577.3" cy="168.1" r="1.8" fill="#a6cee3"/>
<circle cx="513.7" cy="55.1" r="1.8" fill="#a6cee3"/>
<circle cx="539.2" cy="193.1" r="1.8" fill="#a6cee3"/>
<circle cx="523.7" cy="193.4" r="1.8" fill="#a6cee3"/>
<circle cx="533.2" cy="133.9" r="1.8" fill="#a6cee3"/>
<circle cx="547.8" cy="91.2" r="1.8" fill="#a6cee3"/>
<circle cx="532.2" cy="186.7" r="1.8" fill="#a6cee3"/>
<circle cx="533.6" cy="168.7" r="1.8" fill="#a6cee3"/>
<circle cx="576.6" cy="177.5" r="1.8" fill="#a6cee3"/>
<circle cx="673.4" cy="174.7" r="1.8" fill="#a6cee3"/>
<circle cx="668.9" cy="177.4" r="1.8" fill="#a6cee3"/>
<circle cx="664.7" cy="176.2" r="1.8" fill="#a6cee3"/>
<circle cx="623.9" cy="86.0" r="1.8" fill="#a6cee3"/>
<circle cx="626.5" cy="90.7" r="1.8" fill="#a6cee3"/>
<circle cx="607.2" cy="72.8" r="1.8" fill="#a6cee3"/>
<circle cx="606.7" cy="77.3" r="1.8" fill="#a6cee3"/>
<circle cx="582.3" cy="153.5" r="1.8" fill="#a6cee3"/>
<circle cx="578.8" cy="57.5" r="1.8" fill="#a6cee3"/>
<circle cx="513.1" cy="113.8" r="1.8" fill="#a6cee3"/>
<circle cx="578.5" cy="183.9" r="1.8" fill="#a6cee3"/>
<circle cx="456.0" cy="116.9" r="1.8" fill="#a6cee3"/>
<circle cx="633.6" cy="138.5" r="1.8" fill="#a6cee3"/>
<circle cx="637.9" cy="135.3" r="1.8" fill="#a6cee3"/>
<circle cx="592.5" cy="215.0" r="1.8" fill="#a6cee3"/>
<circle cx="459.8" cy="100.5" r="1.8" fill="#a6cee3"/>
<circle cx="633.0" cy="236.1" r="1.8" fill="#a6cee3"/>
<circle cx="629.5" cy="239.4" r="1.8" fill="#a6cee3"/>
<circle cx="621.7" cy="237.6" r="1.8" fill="#a6cee3"/>
<circle cx="611.8" cy="244.8" r="1.8" fill="#a6cee3"/>
<circle cx="638.9" cy="214.1" r="1.8" fill="#a6cee3"/>
<circle cx="636.9" cy="218.0" r="1.8" fill="#a6cee3"/>
<circle cx="526.4" cy="125.7" r="1.8" fill="#a6cee3"/>
<circle cx="667.9" cy="208.5" r="1.8" fill="#a6cee3"/>
<circle cx="679.6" cy="225.2" r="1.8" fill="#a6cee3"/>
<circle cx="564.3" cy="196.2" r="1.8" fill="#a6cee3"/>
<circle cx="658.7" cy="227.0" r="1.8" fill="#a6cee3"/>
<circle cx="659.6" cy="230.9" r="1.8" fill="#a6cee3"/>
<circle cx="514.6" cy="200.9" r="1.8" fill="#a6cee3"/>
<circle cx="655.9" cy="204.7" r="1.8" fill="#a6cee3"/>
<circle cx="663.4" cy="200.1" r="1.8" fill="#a6cee3"/>
<circle cx="600.7" cy="160.6" r="1.8" fill="#a6cee3"/>
<circle cx="505.9" cy="127.8" r="1.8" fill="#a6cee3"/>
<circle cx="585.4" cy="195.0" r="1.8" fill="#a6cee3"/>
<circle cx="476.9" cy="90.5" r="1.8" fill="#a6cee3"/>
<circle cx="538.6" cy="219.5" r="1.8" fill="#a6cee3"/>
<circle cx="534.7" cy="70.0" r="1.8" fill="#a6cee3"/>
<circle cx="531.5" cy="66.4" r="1.8" fill="#a6cee3"/>
<circle cx="526.5" cy="37.2" r="1.8" fill="#a6cee3"/>
<circle cx="531.8" cy="36.1" r="1.8" fill="#a6cee3"/>
<circle cx="519.6" cy="103.5" r="1.8" fill="#a6cee3"/>
<circle cx="656.3" cy="162.1" r="1.8" fill="#a6cee3"/>
<circle cx="484.8" cy="130.9" r="1.8" fill="#a6cee3"/>
<circle cx="484.3" cy="125.5" r="1.8" fill="#a6cee3"/>
<circle cx="483.8" cy="121.3" r="1.8" fill="#a6cee3"/>
<circle cx="488.0" cy="118.7" r="1.8" fill="#a6cee3"/>
<circle cx="523.7" cy="82.8" r="1.8" fill="#a6cee3"/>
<circle cx="659.0" cy="114.9" r="1.8" fill="#a6cee3"/>
<circle cx="576.9" cy="108.8" r="1.8" fill="#a6cee3"/>
<circle cx="505.2" cy="64.3" r="1.8" fill="#a6cee3"/>
<circle cx="495.6" cy="54.2" r="1.8" fill="#a6cee3"/>
<circle cx="541.3" cy="73.3" r="1.8" fill="#a6cee3"/>
<circle cx="665.1" cy="111.4" r="1.8" fill="#a6cee3"/>
<circle cx="670.4" cy="205.1" r="1.8" fill="#a6cee3"/>
<circle cx="662.6" cy="192.2" r="1.8" fill="#a6cee3"/>
<circle cx="692.0" cy="144.4" r="1.8" fill="#a6cee3"/>
<circle cx="691.5" cy="140.0" r="1.8" fill="#a6cee3"/>
<circle cx="694.8" cy="137.4" r="1.8" fill="#a6cee3"/>
<circle cx="672.2" cy="137.7" r="1.8" fill="#a6cee3"/>
<circle cx="642.2" cy="120.4" r="1.8" fill="#a6cee3"/>
<circle cx="644.1" cy="124.9" r="1.8" fill="#a6cee3"/>
<circle cx="519.8" cy="65.0" r="1.8" fill="#a6cee3"/>
<circle cx="653.3" cy="193.7" r="1.8" fill="#a6cee3"/>
<circle cx="655.1" cy="197.8" r="1.8" fill="#a6cee3"/>
<circle cx="706.6" cy="182.9" r="1.8" fill="#a6cee3"/>
<circle cx="561.9" cy="86.8" r="1.8" fill="#a6cee3"/>
<circle cx="531.3" cy="128.1" r="1.8" fill="#a6cee3"/>
<circle cx="703.5" cy="190.7" r="1.8" fill="#a6cee3"/>
<circle cx="704.9" cy="186.6" r="1.8" fill="#a6cee3"/>
<circle cx="658.5" cy="182.9" r="1.8" fill="#a6cee3"/>
<circle cx="654.1" cy="179.8" r="1.8" fill="#a6cee3"/>
<circle cx="572.3" cy="57.4" r="1.8" fill="#a6cee3"/>
<circle cx="578.3" cy="62.4" r="1.8" fill="#a6cee3"/>
<circle cx="487.1" cy="113.5" r="1.8" fill="#a6cee3"/>
<circle cx="647.5" cy="126.8" r="1.8" fill="#a6cee3"/>
<circle cx="650.9" cy="124.0" r="1.8" fill="#a6cee3"/>
<circle cx="540.6" cy="144.4" r="1.8" fill="#a6cee3"/>
<circle cx="611.1" cy="194.9" r="1.8" fill="#a6cee3"/>
<circle cx="573.3" cy="227.8" r="1.8" fill="#a6cee3"/>
<circle cx="595.6" cy="204.1" r="1.8" fill="#a6cee3"/>
<circle cx="537.8" cy="200.3" r="1.8" fill="#a6cee3"/>
<circle cx="638.2" cy="147.9" r="1.8" fill="#a6cee3"/>
<circle cx="622.9" cy="140.9" r="1.8" fill="#a6cee3"/>
<circle cx="519.7" cy="46.9" r="1.8" fill="#a6cee3"/>
<circle cx="600.8" cy="155.4" r="1.8" fill="#a6cee3"/>
<circle cx="525.5" cy="197.9" r="1.8" fill="#a6cee3"/>
<circle cx="620.3" cy="108.1" r="1.8" fill="#a6cee3"/>
<circle cx="545.2" cy="96.8" r="1.8" fill="#a6cee3"/>
<circle cx="487.5" cy="163.0" r="1.8" fill="#a6cee3"/>
<circle cx="531.0" cy="229.0" r="1.8" fill="#a6cee3"/>
<circle cx="608.0" cy="248.7" r="1.8" fill="#a6cee3"/>
<circle cx="627.7" cy="250.3" r="1.8" fill="#a6cee3"/>
<circle cx="446.0" cy="104.0" r="1.8" fill="#a6cee3"/>
<circle cx="450.0" cy="107.0" r="1.8" fill="#a6cee3"/>
<circle cx="463.1" cy="102.9" r="1.9" fill="#fdbf6f"/>
<circle cx="489.3" cy="108.7" r="1.9" fill="#fdbf6f"/>
<circle cx="492.2" cy="108.7" r="1.9" fill="#fdbf6f"/>
<circle cx="505.8" cy="109.7" r="1.9" fill="#fdbf6f"/>
<circle cx="497.1" cy="102.9" r="1.9" fill="#fdbf6f"/>
<circle cx="518.4" cy="107.8" r="1.9" fill="#fdbf6f"/>
<circle cx="480.6" cy="110.7" r="1.9" fill="#b2df8a"/>
<circle cx="473.8" cy="124.3" r="1.9" fill="#b2df8a"/>
<circle cx="484.5" cy="135.9" r="1.9" fill="#ff7f00"/>
<circle cx="478.6" cy="149.5" r="1.9" fill="#ff7f00"/>
<circle cx="500.0" cy="141.7" r="1.9" fill="#fdbf6f"/>
<circle cx="521.3" cy="148.5" r="1.9" fill="#ff7f00"/>
<circle cx="522.7" cy="150.9" r="1.9" fill="#fdbf6f"/>
<circle cx="532.0" cy="139.8" r="1.9" fill="#6a3d9a"/>
<circle cx="515.5" cy="160.2" r="1.9" fill="#ff7f00"/>
<circle cx="522.3" cy="168.0" r="1.9" fill="#ff7f00"/>
<circle cx="520.8" cy="166.6" r="1.9" fill="#ff7f00"/>
<circle cx="526.2" cy="174.8" r="1.9" fill="#ff7f00"/>
<circle cx="488.3" cy="177.7" r="1.9" fill="#33a02c"/>
<circle cx="486.4" cy="164.1" r="1.9" fill="#b2df8a"/>
<circle cx="490.3" cy="166.0" r="1.9" fill="#b2df8a"/>
<circle cx="530.1" cy="167.0" r="1.9" fill="#fdbf6f"/>
<circle cx="528.1" cy="191.7" r="1.9" fill="#ff7f00"/>
<circle cx="510.7" cy="39.4" r="1.9" fill="#fdbf6f"/>
<circle cx="491.3" cy="55.9" r="1.9" fill="#fdbf6f"/>
<circle cx="506.8" cy="54.6" r="1.9" fill="#33a02c"/>
<circle cx="499.0" cy="59.8" r="1.9" fill="#33a02c"/>
<circle cx="524.3" cy="61.7" r="1.9" fill="#1f78b4"/>
<circle cx="516.5" cy="71.5" r="1.9" fill="#fdbf6f"/>
<circle cx="521.3" cy="71.5" r="1.9" fill="#fdbf6f"/>
<circle cx="512.6" cy="93.8" r="1.9" fill="#ff7f00"/>
<circle cx="462.1" cy="96.7" r="1.9" fill="#ff7f00"/>
<circle cx="522.3" cy="97.7" r="1.9" fill="#1f78b4"/>
<circle cx="479.6" cy="70.5" r="1.9" fill="#b2df8a"/>
<circle cx="522.3" cy="89.9" r="1.9" fill="#b2df8a"/>
<circle cx="572.8" cy="109.7" r="1.9" fill="#33a02c"/>
<circle cx="579.6" cy="105.8" r="1.9" fill="#b15928"/>
<circle cx="581.5" cy="108.7" r="1.9" fill="#b15928"/>
<circle cx="578.6" cy="113.6" r="1.9" fill="#cab2d6"/>
<circle cx="610.7" cy="117.5" r="1.9" fill="#6a3d9a"/>
<circle cx="581.5" cy="135.9" r="1.9" fill="#6a3d9a"/>
<circle cx="589.3" cy="133.0" r="1.9" fill="#33a02c"/>
<circle cx="591.3" cy="142.7" r="1.9" fill="#33a02c"/>
<circle cx="601.9" cy="136.9" r="1.9" fill="#6a3d9a"/>
<circle cx="601.0" cy="142.7" r="1.9" fill="#6a3d9a"/>
<circle cx="621.3" cy="134.0" r="1.9" fill="#fb9a99"/>
<circle cx="620.4" cy="147.6" r="1.9" fill="#6a3d9a"/>
<circle cx="628.1" cy="151.5" r="1.9" fill="#6a3d9a"/>
<circle cx="631.1" cy="150.5" r="1.9" fill="#6a3d9a"/>
<circle cx="612.6" cy="158.3" r="1.9" fill="#33a02c"/>
<circle cx="545.6" cy="148.5" r="1.9" fill="#ff7f00"/>
<circle cx="544.7" cy="169.9" r="1.9" fill="#6a3d9a"/>
<circle cx="542.7" cy="173.8" r="1.9" fill="#ff7f00"/>
<circle cx="614.6" cy="168.9" r="1.9" fill="#6a3d9a"/>
<circle cx="622.3" cy="172.8" r="1.9" fill="#6a3d9a"/>
<circle cx="624.3" cy="172.8" r="1.9" fill="#6a3d9a"/>
<circle cx="632.0" cy="107.8" r="1.9" fill="#b15928"/>
<circle cx="569.9" cy="139.8" r="1.9" fill="#fdbf6f"/>
<circle cx="563.1" cy="149.5" r="1.9" fill="#fdbf6f"/>
<circle cx="575.7" cy="190.7" r="1.9" fill="#6a3d9a"/>
<circle cx="590.3" cy="192.6" r="1.9" fill="#ff7f00"/>
<circle cx="594.2" cy="194.6" r="1.9" fill="#fb9a99"/>
<circle cx="558.2" cy="206.2" r="1.9" fill="#ff7f00"/>
<circle cx="563.1" cy="205.2" r="1.9" fill="#b2df8a"/>
<circle cx="567.0" cy="202.3" r="1.9" fill="#fb9a99"/>
<circle cx="568.0" cy="199.4" r="1.9" fill="#fb9a99"/>
<circle cx="577.7" cy="204.3" r="1.9" fill="#fb9a99"/>
<circle cx="580.0" cy="203.7" r="1.9" fill="#fb9a99"/>
<circle cx="577.7" cy="199.4" r="1.9" fill="#b2df8a"/>
<circle cx="584.5" cy="199.4" r="1.9" fill="#cab2d6"/>
<circle cx="620.4" cy="182.9" r="1.9" fill="#6a3d9a"/>
<circle cx="625.2" cy="186.8" r="1.9" fill="#b15928"/>
<circle cx="625.2" cy="193.6" r="1.9" fill="#1f78b4"/>
<circle cx="622.3" cy="206.2" r="1.9" fill="#1f78b4"/>
<circle cx="622.3" cy="210.1" r="1.9" fill="#fb9a99"/>
<circle cx="593.2" cy="235.3" r="1.9" fill="#1f78b4"/>
<circle cx="555.3" cy="221.7" r="1.9" fill="#b2df8a"/>
<circle cx="558.2" cy="226.6" r="1.9" fill="#b2df8a"/>
<circle cx="562.1" cy="228.5" r="1.9" fill="#b2df8a"/>
<circle cx="568.0" cy="229.5" r="1.9" fill="#fb9a99"/>
<circle cx="618.4" cy="194.6" r="1.9" fill="#b2df8a"/>
<circle cx="545.6" cy="57.9" r="1.9" fill="#33a02c"/>
<circle cx="560.2" cy="61.2" r="1.9" fill="#6a3d9a"/>
<circle cx="542.7" cy="81.2" r="1.9" fill="#6a3d9a"/>
<circle cx="573.8" cy="63.7" r="1.9" fill="#6a3d9a"/>
<circle cx="576.7" cy="67.6" r="1.9" fill="#33a02c"/>
<circle cx="578.6" cy="68.5" r="1.9" fill="#33a02c"/>
<circle cx="583.5" cy="73.4" r="1.9" fill="#6a3d9a"/>
<circle cx="579.6" cy="78.3" r="1.9" fill="#33a02c"/>
<circle cx="577.7" cy="81.2" r="1.9" fill="#33a02c"/>
<circle cx="584.5" cy="78.3" r="1.9" fill="#33a02c"/>
<circle cx="586.4" cy="80.2" r="1.9" fill="#33a02c"/>
<circle cx="588.3" cy="82.1" r="1.9" fill="#33a02c"/>
<circle cx="589.3" cy="86.0" r="1.9" fill="#33a02c"/>
<circle cx="593.2" cy="78.3" r="1.9" fill="#33a02c"/>
<circle cx="599.0" cy="78.3" r="1.9" fill="#33a02c"/>
<circle cx="599.0" cy="83.1" r="1.9" fill="#33a02c"/>
<circle cx="597.1" cy="87.0" r="1.9" fill="#33a02c"/>
<circle cx="600.0" cy="88.9" r="1.9" fill="#33a02c"/>
<circle cx="606.8" cy="95.7" r="1.9" fill="#33a02c"/>
<circle cx="608.7" cy="94.8" r="1.9" fill="#33a02c"/>
<circle cx="574.7" cy="97.7" r="1.9" fill="#ff7f00"/>
<circle cx="578.6" cy="94.8" r="1.9" fill="#fdbf6f"/>
<circle cx="617.5" cy="86.0" r="1.9" fill="#b2df8a"/>
<circle cx="601.0" cy="93.8" r="1.9" fill="#fb9a99"/>
<circle cx="657.3" cy="106.8" r="1.9" fill="#b15928"/>
<circle cx="639.8" cy="109.7" r="1.9" fill="#b15928"/>
<circle cx="634.9" cy="108.7" r="1.9" fill="#b15928"/>
<circle cx="641.7" cy="115.5" r="1.9" fill="#b15928"/>
<circle cx="635.9" cy="119.4" r="1.9" fill="#b15928"/>
<circle cx="669.9" cy="110.7" r="1.9" fill="#f0e070"/>
<circle cx="669.9" cy="113.6" r="1.9" fill="#f0e070"/>
<circle cx="661.2" cy="121.4" r="1.9" fill="#1f78b4"/>
<circle cx="663.1" cy="123.3" r="1.9" fill="#1f78b4"/>
<circle cx="662.1" cy="127.2" r="1.9" fill="#1f78b4"/>
<circle cx="660.2" cy="125.2" r="1.9" fill="#1f78b4"/>
<circle cx="668.9" cy="124.3" r="1.9" fill="#1f78b4"/>
<circle cx="665.0" cy="135.9" r="1.9" fill="#1f78b4"/>
<circle cx="653.4" cy="115.5" r="1.9" fill="#b2df8a"/>
<circle cx="667.0" cy="129.1" r="1.9" fill="#f0e070"/>
<circle cx="660.2" cy="135.9" r="1.9" fill="#f0e070"/>
<circle cx="672.8" cy="146.6" r="1.9" fill="#fdbf6f"/>
<circle cx="692.2" cy="158.3" r="1.9" fill="#1f78b4"/>
<circle cx="693.6" cy="157.3" r="1.9" fill="#1f78b4"/>
<circle cx="674.7" cy="160.2" r="1.9" fill="#1f78b4"/>
<circle cx="647.6" cy="162.1" r="1.9" fill="#b2df8a"/>
<circle cx="645.6" cy="169.9" r="1.9" fill="#fb9a99"/>
<circle cx="664.1" cy="183.9" r="1.9" fill="#1f78b4"/>
<circle cx="667.0" cy="181.0" r="1.9" fill="#1f78b4"/>
<circle cx="662.1" cy="187.8" r="1.9" fill="#1f78b4"/>
<circle cx="634.9" cy="192.6" r="1.9" fill="#fdbf6f"/>
<circle cx="638.8" cy="190.7" r="1.9" fill="#b2df8a"/>
<circle cx="648.5" cy="195.5" r="1.9" fill="#6a3d9a"/>
<circle cx="649.5" cy="197.1" r="1.9" fill="#6a3d9a"/>
<circle cx="640.8" cy="203.3" r="1.9" fill="#6a3d9a"/>
<circle cx="643.7" cy="215.0" r="1.9" fill="#6a3d9a"/>
<circle cx="648.5" cy="229.5" r="1.9" fill="#6a3d9a"/>
<circle cx="682.5" cy="194.6" r="1.9" fill="#1f78b4"/>
<circle cx="681.5" cy="198.4" r="1.9" fill="#1f78b4"/>
<circle cx="684.5" cy="197.5" r="1.9" fill="#1f78b4"/>
<circle cx="685.4" cy="199.8" r="1.9" fill="#1f78b4"/>
<circle cx="688.3" cy="197.1" r="1.9" fill="#1f78b4"/>
<circle cx="693.2" cy="194.6" r="1.9" fill="#1f78b4"/>
<circle cx="695.1" cy="192.0" r="1.9" fill="#1f78b4"/>
<circle cx="701.9" cy="210.1" r="1.9" fill="#1f78b4"/>
<circle cx="707.8" cy="209.1" r="1.9" fill="#1f78b4"/>
<circle cx="706.8" cy="214.0" r="1.9" fill="#1f78b4"/>
<circle cx="708.7" cy="215.9" r="1.9" fill="#1f78b4"/>
<circle cx="673.8" cy="215.9" r="1.9" fill="#b2df8a"/>
<circle cx="673.8" cy="229.5" r="1.9" fill="#b2df8a"/>
<circle cx="717.5" cy="188.7" r="1.9" fill="#b2df8a"/>
</g>
<line x1="433.0" y1="20" x2="433.0" y2="261.5" stroke="#9a9a9a" stroke-width="1.2"/>
<line x1="432.5" y1="262.0" x2="737" y2="262.0" stroke="#9a9a9a" stroke-width="1.2"/>
<line x1="446.06" y1="262.0" x2="446.06" y2="263.5" stroke="#bdbdbd" stroke-width="0.8"/>
<line x1="458.7" y1="262.0" x2="458.7" y2="263.5" stroke="#bdbdbd" stroke-width="0.8"/>
<line x1="471.34" y1="262.0" x2="471.34" y2="263.5" stroke="#bdbdbd" stroke-width="0.8"/>
<line x1="483.98" y1="262.0" x2="483.98" y2="263.5" stroke="#bdbdbd" stroke-width="0.8"/>
<line x1="496.62" y1="262.0" x2="496.62" y2="263.5" stroke="#bdbdbd" stroke-width="0.8"/>
<line x1="509.26" y1="262.0" x2="509.26" y2="263.5" stroke="#bdbdbd" stroke-width="0.8"/>
<line x1="521.9" y1="262.0" x2="521.9" y2="263.5" stroke="#bdbdbd" stroke-width="0.8"/>
<line x1="534.54" y1="262.0" x2="534.54" y2="263.5" stroke="#bdbdbd" stroke-width="0.8"/>
<line x1="547.18" y1="262.0" x2="547.18" y2="263.5" stroke="#bdbdbd" stroke-width="0.8"/>
<line x1="559.8199999999999" y1="262.0" x2="559.8199999999999" y2="263.5" stroke="#bdbdbd" stroke-width="0.8"/>
<line x1="572.46" y1="262.0" x2="572.46" y2="263.5" stroke="#bdbdbd" stroke-width="0.8"/>
<line x1="585.1" y1="262.0" x2="585.1" y2="263.5" stroke="#bdbdbd" stroke-width="0.8"/>
<line x1="597.74" y1="262.0" x2="597.74" y2="263.5" stroke="#bdbdbd" stroke-width="0.8"/>
<line x1="610.38" y1="262.0" x2="610.38" y2="263.5" stroke="#bdbdbd" stroke-width="0.8"/>
<line x1="623.02" y1="262.0" x2="623.02" y2="263.5" stroke="#bdbdbd" stroke-width="0.8"/>
<line x1="635.66" y1="262.0" x2="635.66" y2="263.5" stroke="#bdbdbd" stroke-width="0.8"/>
<line x1="648.3" y1="262.0" x2="648.3" y2="263.5" stroke="#bdbdbd" stroke-width="0.8"/>
<line x1="660.94" y1="262.0" x2="660.94" y2="263.5" stroke="#bdbdbd" stroke-width="0.8"/>
<line x1="673.58" y1="262.0" x2="673.58" y2="263.5" stroke="#bdbdbd" stroke-width="0.8"/>
<line x1="686.22" y1="262.0" x2="686.22" y2="263.5" stroke="#bdbdbd" stroke-width="0.8"/>
<line x1="698.86" y1="262.0" x2="698.86" y2="263.5" stroke="#bdbdbd" stroke-width="0.8"/>
<line x1="711.5" y1="262.0" x2="711.5" y2="263.5" stroke="#bdbdbd" stroke-width="0.8"/>
<line x1="724.14" y1="262.0" x2="724.14" y2="263.5" stroke="#bdbdbd" stroke-width="0.8"/>
<line x1="433.0" y1="28.900000000000002" x2="431.5" y2="28.900000000000002" stroke="#bdbdbd" stroke-width="0.8"/>
<line x1="433.0" y1="37.2" x2="431.5" y2="37.2" stroke="#bdbdbd" stroke-width="0.8"/>
<line x1="433.0" y1="45.5" x2="431.5" y2="45.5" stroke="#bdbdbd" stroke-width="0.8"/>
<line x1="433.0" y1="53.800000000000004" x2="431.5" y2="53.800000000000004" stroke="#bdbdbd" stroke-width="0.8"/>
<line x1="433.0" y1="62.1" x2="431.5" y2="62.1" stroke="#bdbdbd" stroke-width="0.8"/>
<line x1="433.0" y1="70.4" x2="431.5" y2="70.4" stroke="#bdbdbd" stroke-width="0.8"/>
<line x1="433.0" y1="78.7" x2="431.5" y2="78.7" stroke="#bdbdbd" stroke-width="0.8"/>
<line x1="433.0" y1="87.0" x2="431.5" y2="87.0" stroke="#bdbdbd" stroke-width="0.8"/>
<line x1="433.0" y1="95.30000000000001" x2="431.5" y2="95.30000000000001" stroke="#bdbdbd" stroke-width="0.8"/>
<line x1="433.0" y1="103.6" x2="431.5" y2="103.6" stroke="#bdbdbd" stroke-width="0.8"/>
<line x1="433.0" y1="111.9" x2="431.5" y2="111.9" stroke="#bdbdbd" stroke-width="0.8"/>
<line x1="433.0" y1="120.19999999999999" x2="431.5" y2="120.19999999999999" stroke="#bdbdbd" stroke-width="0.8"/>
<line x1="433.0" y1="128.5" x2="431.5" y2="128.5" stroke="#bdbdbd" stroke-width="0.8"/>
<line x1="433.0" y1="136.8" x2="431.5" y2="136.8" stroke="#bdbdbd" stroke-width="0.8"/>
<line x1="433.0" y1="145.1" x2="431.5" y2="145.1" stroke="#bdbdbd" stroke-width="0.8"/>
<line x1="433.0" y1="153.4" x2="431.5" y2="153.4" stroke="#bdbdbd" stroke-width="0.8"/>
<line x1="433.0" y1="161.7" x2="431.5" y2="161.7" stroke="#bdbdbd" stroke-width="0.8"/>
<line x1="433.0" y1="170.0" x2="431.5" y2="170.0" stroke="#bdbdbd" stroke-width="0.8"/>
<line x1="433.0" y1="178.29999999999998" x2="431.5" y2="178.29999999999998" stroke="#bdbdbd" stroke-width="0.8"/>
<line x1="433.0" y1="186.6" x2="431.5" y2="186.6" stroke="#bdbdbd" stroke-width="0.8"/>
<line x1="433.0" y1="194.9" x2="431.5" y2="194.9" stroke="#bdbdbd" stroke-width="0.8"/>
<line x1="433.0" y1="203.2" x2="431.5" y2="203.2" stroke="#bdbdbd" stroke-width="0.8"/>
<line x1="433.0" y1="211.5" x2="431.5" y2="211.5" stroke="#bdbdbd" stroke-width="0.8"/>
<line x1="433.0" y1="219.79999999999998" x2="431.5" y2="219.79999999999998" stroke="#bdbdbd" stroke-width="0.8"/>
<line x1="433.0" y1="228.1" x2="431.5" y2="228.1" stroke="#bdbdbd" stroke-width="0.8"/>
<line x1="433.0" y1="236.4" x2="431.5" y2="236.4" stroke="#bdbdbd" stroke-width="0.8"/>
<line x1="433.0" y1="244.7" x2="431.5" y2="244.7" stroke="#bdbdbd" stroke-width="0.8"/>
<line x1="433.0" y1="253.0" x2="431.5" y2="253.0" stroke="#bdbdbd" stroke-width="0.8"/>
<line x1="458.7" y1="260.5" x2="458.7" y2="264.5" stroke="#9a9a9a" stroke-width="1"/>
<line x1="521.9" y1="260.5" x2="521.9" y2="264.5" stroke="#9a9a9a" stroke-width="1"/>
<line x1="585.0" y1="260.5" x2="585.0" y2="264.5" stroke="#9a9a9a" stroke-width="1"/>
<line x1="648.2" y1="260.5" x2="648.2" y2="264.5" stroke="#9a9a9a" stroke-width="1"/>
<line x1="711.4" y1="260.5" x2="711.4" y2="264.5" stroke="#9a9a9a" stroke-width="1"/>
<line x1="434.0" y1="20.6" x2="430.5" y2="20.6" stroke="#9a9a9a" stroke-width="1"/>
<line x1="434.0" y1="62.1" x2="430.5" y2="62.1" stroke="#9a9a9a" stroke-width="1"/>
<line x1="434.0" y1="103.6" x2="430.5" y2="103.6" stroke="#9a9a9a" stroke-width="1"/>
<line x1="434.0" y1="145.1" x2="430.5" y2="145.1" stroke="#9a9a9a" stroke-width="1"/>
<line x1="434.0" y1="186.6" x2="430.5" y2="186.6" stroke="#9a9a9a" stroke-width="1"/>
<line x1="434.0" y1="228.1" x2="430.5" y2="228.1" stroke="#9a9a9a" stroke-width="1"/>
<circle cx="741.5" cy="23.8" r="2.2" fill="none" stroke="#6b6b55" stroke-width="1.3"/>
<circle cx="740.9" cy="23.2" r="1.6" fill="none" stroke="#f0c850" stroke-width="0.6" opacity="0.6"/>
<line x1="737.7" y1="29.5" x2="737.7" y2="40" stroke="#9ec3dc" stroke-width="0.8"/>
<line x1="737.7" y1="80" x2="737.7" y2="92" stroke="#9ec3dc" stroke-width="0.8"/>
<line x1="737.7" y1="134.6" x2="737.7" y2="231" stroke="#9ec3dc" stroke-width="0.8"/><rect x="428" y="6" width="38.5" height="13" fill="#fff"/><path d="M739.5,34 h4 M741.5,32 v4" stroke="#c0c0c0" stroke-width="0.9" fill="none"/>
<circle cx="741.5" cy="43" r="1.6" fill="none" stroke="#c4c4c4" stroke-width="0.9"/>
<rect x="739.7" y="51.1" width="3.6" height="3.2" fill="none" stroke="#c4c4c4" stroke-width="0.9"/>
<path d="M739.7,64.0 L743.3,61.0 M739.7,61.5 h2" stroke="#c4c4c4" stroke-width="0.9" fill="none"/>
<path d="M739.7,71.4 h3.6 M739.7,73.4 h3.6" stroke="#c4c4c4" stroke-width="0.9" fill="none"/>
<path d="M739.5,81 h4 M741.5,79 v4" stroke="#c0c0c0" stroke-width="0.9" fill="none"/>
<circle cx="741.5" cy="92" r="1.6" fill="none" stroke="#c4c4c4" stroke-width="0.9"/>
<rect x="739.7" y="100.30000000000001" width="3.6" height="3.2" fill="none" stroke="#c4c4c4" stroke-width="0.9"/>
<path d="M739.7,113.2 L743.3,110.2 M739.7,110.7 h2" stroke="#c4c4c4" stroke-width="0.9" fill="none"/>
<path d="M739.7,119.5 h3.6 M739.7,121.5 h3.6" stroke="#c4c4c4" stroke-width="0.9" fill="none"/>
<path d="M739.5,130.3 h4 M741.5,128.3 v4" stroke="#c0c0c0" stroke-width="0.9" fill="none"/>
<circle cx="741.5" cy="139" r="1.6" fill="none" stroke="#c4c4c4" stroke-width="0.9"/>
<rect x="739.7" y="148.4" width="3.6" height="3.2" fill="none" stroke="#c4c4c4" stroke-width="0.9"/>
<path d="M739.7,159.5 L743.3,156.5 M739.7,157 h2" stroke="#c4c4c4" stroke-width="0.9" fill="none"/>
<path d="M739.7,166 h3.6 M739.7,168 h3.6" stroke="#c4c4c4" stroke-width="0.9" fill="none"/>
<path d="M739.5,176 h4 M741.5,174 v4" stroke="#c0c0c0" stroke-width="0.9" fill="none"/>
<circle cx="741.5" cy="185" r="1.6" fill="none" stroke="#c4c4c4" stroke-width="0.9"/>
<rect x="739.7" y="192.4" width="3.6" height="3.2" fill="none" stroke="#c4c4c4" stroke-width="0.9"/>
<path d="M739.7,204.5 L743.3,201.5 M739.7,202 h2" stroke="#c4c4c4" stroke-width="0.9" fill="none"/>
<path d="M739.7,211 h3.6 M739.7,213 h3.6" stroke="#c4c4c4" stroke-width="0.9" fill="none"/>
<path d="M739.5,221 h4 M741.5,219 v4" stroke="#c0c0c0" stroke-width="0.9" fill="none"/>
<circle cx="741.5" cy="229" r="1.6" fill="none" stroke="#c4c4c4" stroke-width="0.9"/>
</svg>
<div class="ttl" style="left:54px;top:15px">Analysis Result</div>
<div class="ttl" style="left:433px;top:14px">Analysis Result</div>
<div class="yt" style="right:713.5px;top:38.3px">40</div><div class="yt" style="right:713.5px;top:84.8px">20</div><div class="yt" style="right:713.5px;top:130.5px">0</div><div class="yt" style="right:713.5px;top:177.2px"><span class="mn">&minus;</span>20</div><div class="yt" style="right:713.5px;top:223.7px"><span class="mn">&minus;</span>40</div><div class="xt" style="left:51.3px;top:263.5px"><span class="mn">&minus;</span>40</div><div class="xt" style="left:120.69999999999999px;top:263.5px"><span class="mn">&minus;</span>20</div><div class="xt" style="left:176.5px;top:263.5px">0</div><div class="xt" style="left:236.3px;top:263.5px">20</div><div class="xt" style="left:300.5px;top:263.5px">40</div><div class="yt" style="right:338.7px;top:10.100000000000001px">60</div><div class="yt" style="right:338.7px;top:51.6px">40</div><div class="yt" style="right:338.7px;top:93.0px">20</div><div class="yt" style="right:338.7px;top:134.8px">0</div><div class="yt" style="right:338.7px;top:177.4px"><span class="mn">&minus;</span>20</div><div class="yt" style="right:338.7px;top:218.2px"><span class="mn">&minus;</span>40</div><div class="xt" style="left:432.2px;top:263.5px"><span class="mn">&minus;</span>40</div><div class="xt" style="left:501.20000000000005px;top:263.5px"><span class="mn">&minus;</span>20</div><div class="xt" style="left:557.3px;top:263.5px">0</div><div class="xt" style="left:617.6px;top:263.5px">20</div><div class="xt" style="left:682.3px;top:263.5px">40</div>
<div class="lbl" style="left:65px;top:300px">(a)</div>
<div class="cap" style="left:107.5px;top:298.7px">年代順に色分け表示した結果</div>
<div class="lbl" style="left:433.5px;top:301px">(b)</div>
<div class="num" style="left:477.5px;top:301px;transform:none">10</div>
<div class="cap" style="left:500.5px;top:298.7px">組のアーティストに固有の</div>
<div class="cap" style="left:478px;top:326px">色を割り振った結果</div>
<div class="fig"></div>
<div class="figz" style="left:57px;top:366px">図</div>
<div class="figt" style="left:82px;top:367px">4.20</div>
<div class="num" style="left:150.5px;top:368.5px">1986</div>
<div class="jp" style="left:197.5px;top:367px">年以降の日本のヒット曲の音響特徴量分布の可視化（口絵</div>
<div class="num" style="left:679.5px;top:367px">38</div>
<div class="jp" style="left:701px;top:367px">）</div>
</body></html>
